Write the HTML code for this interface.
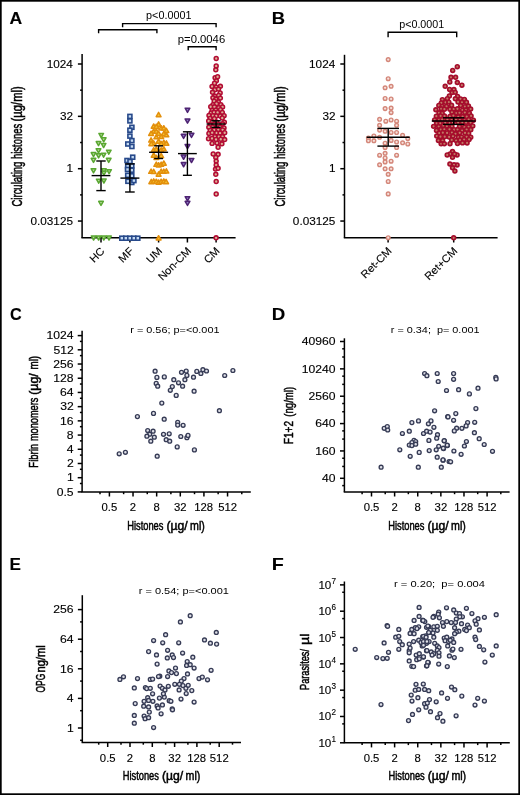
<!DOCTYPE html>
<html><head><meta charset="utf-8"><style>
html,body{margin:0;padding:0;background:#fff;overflow:hidden;width:520px;height:795px;}
svg{display:block;will-change:transform;}
text{font-family:"Liberation Sans", sans-serif;stroke:#000;stroke-width:0.12px;}
</style></head><body>
<svg width="520" height="795" viewBox="0 0 520 795">
<rect width="520" height="795" fill="#fff"/>
<rect x="0.8" y="0.8" width="518.4" height="793.4" fill="none" stroke="#000" stroke-width="1.8"/>
<text x="9.56" y="24.20" font-size="16.5" textLength="12.70" lengthAdjust="spacingAndGlyphs" font-weight="bold">A</text>
<text x="271.77" y="24.00" font-size="16.5" textLength="13.26" lengthAdjust="spacingAndGlyphs" font-weight="bold">B</text>
<text x="9.94" y="319.60" font-size="16.5" textLength="11.71" lengthAdjust="spacingAndGlyphs" font-weight="bold">C</text>
<text x="271.85" y="319.80" font-size="16.5" textLength="13.54" lengthAdjust="spacingAndGlyphs" font-weight="bold">D</text>
<text x="9.46" y="569.80" font-size="16.5" textLength="11.41" lengthAdjust="spacingAndGlyphs" font-weight="bold">E</text>
<text x="271.68" y="569.80" font-size="16.5" textLength="12.04" lengthAdjust="spacingAndGlyphs" font-weight="bold">F</text>
<line x1="82.10" y1="54.00" x2="82.10" y2="237.70" stroke="#000" stroke-width="1.5"/>
<line x1="81.40" y1="237.70" x2="235.60" y2="237.70" stroke="#000" stroke-width="1.5"/>
<line x1="77.90" y1="64.00" x2="82.10" y2="64.00" stroke="#000" stroke-width="1.5"/>
<text x="46.68" y="67.70" font-size="10.5" textLength="26.16" lengthAdjust="spacingAndGlyphs">1024</text>
<line x1="77.90" y1="116.35" x2="82.10" y2="116.35" stroke="#000" stroke-width="1.5"/>
<text x="60.01" y="120.05" font-size="10.5" textLength="13.08" lengthAdjust="spacingAndGlyphs">32</text>
<line x1="77.90" y1="168.70" x2="82.10" y2="168.70" stroke="#000" stroke-width="1.5"/>
<text x="66.53" y="172.40" font-size="10.5" textLength="6.54" lengthAdjust="spacingAndGlyphs">1</text>
<line x1="77.90" y1="221.05" x2="82.10" y2="221.05" stroke="#000" stroke-width="1.5"/>
<text x="30.48" y="224.75" font-size="10.5" textLength="42.51" lengthAdjust="spacingAndGlyphs">0.03125</text>
<line x1="80.10" y1="90.17" x2="82.10" y2="90.17" stroke="#000" stroke-width="1.5"/>
<line x1="80.10" y1="142.52" x2="82.10" y2="142.52" stroke="#000" stroke-width="1.5"/>
<line x1="80.10" y1="194.88" x2="82.10" y2="194.88" stroke="#000" stroke-width="1.5"/>
<line x1="101.00" y1="237.70" x2="101.00" y2="242.50" stroke="#000" stroke-width="1.5"/>
<text x="93.94" y="263.16" font-size="10.8" textLength="16.07" lengthAdjust="spacingAndGlyphs" transform="rotate(-45 93.94 263.16)">HC</text>
<line x1="129.90" y1="237.70" x2="129.90" y2="242.50" stroke="#000" stroke-width="1.5"/>
<text x="122.84" y="263.16" font-size="10.8" textLength="16.06" lengthAdjust="spacingAndGlyphs" transform="rotate(-45 122.84 263.16)">MF</text>
<line x1="158.60" y1="237.70" x2="158.60" y2="242.50" stroke="#000" stroke-width="1.5"/>
<text x="150.67" y="264.03" font-size="10.8" textLength="17.30" lengthAdjust="spacingAndGlyphs" transform="rotate(-45 150.67 264.03)">UM</text>
<line x1="187.40" y1="237.70" x2="187.40" y2="242.50" stroke="#000" stroke-width="1.5"/>
<text x="162.42" y="281.08" font-size="10.8" textLength="41.41" lengthAdjust="spacingAndGlyphs" transform="rotate(-45 162.42 281.08)">Non-CM</text>
<line x1="216.10" y1="237.70" x2="216.10" y2="242.50" stroke="#000" stroke-width="1.5"/>
<text x="208.17" y="264.03" font-size="10.8" textLength="17.30" lengthAdjust="spacingAndGlyphs" transform="rotate(-45 208.17 264.03)">CM</text>
<line x1="344.50" y1="54.80" x2="344.50" y2="237.70" stroke="#000" stroke-width="1.5"/>
<line x1="343.80" y1="237.70" x2="497.60" y2="237.70" stroke="#000" stroke-width="1.5"/>
<line x1="340.30" y1="64.00" x2="344.50" y2="64.00" stroke="#000" stroke-width="1.5"/>
<text x="309.08" y="67.70" font-size="10.5" textLength="26.16" lengthAdjust="spacingAndGlyphs">1024</text>
<line x1="340.30" y1="116.35" x2="344.50" y2="116.35" stroke="#000" stroke-width="1.5"/>
<text x="322.41" y="120.05" font-size="10.5" textLength="13.08" lengthAdjust="spacingAndGlyphs">32</text>
<line x1="340.30" y1="168.70" x2="344.50" y2="168.70" stroke="#000" stroke-width="1.5"/>
<text x="328.93" y="172.40" font-size="10.5" textLength="6.54" lengthAdjust="spacingAndGlyphs">1</text>
<line x1="340.30" y1="221.05" x2="344.50" y2="221.05" stroke="#000" stroke-width="1.5"/>
<text x="292.88" y="224.75" font-size="10.5" textLength="42.51" lengthAdjust="spacingAndGlyphs">0.03125</text>
<line x1="342.50" y1="90.17" x2="344.50" y2="90.17" stroke="#000" stroke-width="1.5"/>
<line x1="342.50" y1="142.52" x2="344.50" y2="142.52" stroke="#000" stroke-width="1.5"/>
<line x1="342.50" y1="194.88" x2="344.50" y2="194.88" stroke="#000" stroke-width="1.5"/>
<line x1="388.10" y1="237.70" x2="388.10" y2="242.50" stroke="#000" stroke-width="1.5"/>
<text x="365.31" y="278.89" font-size="10.8" textLength="38.31" lengthAdjust="spacingAndGlyphs" transform="rotate(-45 365.31 278.89)">Ret-CM</text>
<line x1="453.70" y1="237.70" x2="453.70" y2="242.50" stroke="#000" stroke-width="1.5"/>
<text x="428.93" y="280.87" font-size="10.8" textLength="41.11" lengthAdjust="spacingAndGlyphs" transform="rotate(-45 428.93 280.87)">Ret+CM</text>
<text x="22.30" y="206.48" font-size="14" textLength="44.79" lengthAdjust="spacingAndGlyphs" transform="rotate(-90 22.30 206.48)" style="stroke-width:0.5px">Circulating</text>
<text x="22.30" y="159.06" font-size="14" textLength="35.20" lengthAdjust="spacingAndGlyphs" transform="rotate(-90 22.30 159.06)" style="stroke-width:0.5px">histones</text>
<text x="22.30" y="121.39" font-size="14" textLength="35.09" lengthAdjust="spacingAndGlyphs" transform="rotate(-90 22.30 121.39)" style="stroke-width:0.5px">(µg/ml)</text>
<text x="284.80" y="206.48" font-size="14" textLength="44.79" lengthAdjust="spacingAndGlyphs" transform="rotate(-90 284.80 206.48)" style="stroke-width:0.5px">Circulating</text>
<text x="284.80" y="159.06" font-size="14" textLength="35.20" lengthAdjust="spacingAndGlyphs" transform="rotate(-90 284.80 159.06)" style="stroke-width:0.5px">histones</text>
<text x="284.80" y="121.39" font-size="14" textLength="35.09" lengthAdjust="spacingAndGlyphs" transform="rotate(-90 284.80 121.39)" style="stroke-width:0.5px">(µg/ml)</text>
<polyline points="98.60,33.20 98.60,29.70 156.90,29.70 156.90,33.20" fill="none" stroke="#000" stroke-width="1.4"/>
<polyline points="122.60,27.20 122.60,23.60 216.10,23.60 216.10,27.20" fill="none" stroke="#000" stroke-width="1.4"/>
<polyline points="188.20,50.30 188.20,46.70 216.10,46.70 216.10,50.30" fill="none" stroke="#000" stroke-width="1.4"/>
<text x="146.10" y="19.10" font-size="10.5" textLength="45.43" lengthAdjust="spacingAndGlyphs" style="stroke:none">p&lt;0.0001</text>
<text x="177.77" y="42.90" font-size="10.5" textLength="47.42" lengthAdjust="spacingAndGlyphs" style="stroke:none">p=0.0046</text>
<polyline points="388.10,37.20 388.10,32.20 456.70,32.20 456.70,37.20" fill="none" stroke="#000" stroke-width="1.4"/>
<text x="399.21" y="28.20" font-size="10.5" textLength="45.01" lengthAdjust="spacingAndGlyphs" style="stroke:none">p&lt;0.0001</text>
<polygon points="98.90,133.47 103.50,133.47 101.20,137.53" fill="#b9da9f" stroke="#5aa732" stroke-width="1.5" stroke-linejoin="round"/>
<polygon points="101.40,137.77 106.00,137.77 103.70,141.84" fill="#b9da9f" stroke="#5aa732" stroke-width="1.5" stroke-linejoin="round"/>
<polygon points="96.20,141.56 100.80,141.56 98.50,145.63" fill="#b9da9f" stroke="#5aa732" stroke-width="1.5" stroke-linejoin="round"/>
<polygon points="101.30,143.47 105.90,143.47 103.60,147.53" fill="#b9da9f" stroke="#5aa732" stroke-width="1.5" stroke-linejoin="round"/>
<polygon points="96.20,148.77 100.80,148.77 98.50,152.84" fill="#b9da9f" stroke="#5aa732" stroke-width="1.5" stroke-linejoin="round"/>
<polygon points="106.50,150.16 111.10,150.16 108.80,154.23" fill="#b9da9f" stroke="#5aa732" stroke-width="1.5" stroke-linejoin="round"/>
<polygon points="91.20,152.56 95.80,152.56 93.50,156.63" fill="#b9da9f" stroke="#5aa732" stroke-width="1.5" stroke-linejoin="round"/>
<polygon points="96.30,153.87 100.90,153.87 98.60,157.94" fill="#b9da9f" stroke="#5aa732" stroke-width="1.5" stroke-linejoin="round"/>
<polygon points="101.30,153.16 105.90,153.16 103.60,157.23" fill="#b9da9f" stroke="#5aa732" stroke-width="1.5" stroke-linejoin="round"/>
<polygon points="91.20,158.37 95.80,158.37 93.50,162.44" fill="#b9da9f" stroke="#5aa732" stroke-width="1.5" stroke-linejoin="round"/>
<polygon points="106.40,158.37 111.00,158.37 108.70,162.44" fill="#b9da9f" stroke="#5aa732" stroke-width="1.5" stroke-linejoin="round"/>
<polygon points="91.20,168.77 95.80,168.77 93.50,172.84" fill="#b9da9f" stroke="#5aa732" stroke-width="1.5" stroke-linejoin="round"/>
<polygon points="101.60,168.77 106.20,168.77 103.90,172.84" fill="#b9da9f" stroke="#5aa732" stroke-width="1.5" stroke-linejoin="round"/>
<polygon points="106.80,169.66 111.40,169.66 109.10,173.73" fill="#b9da9f" stroke="#5aa732" stroke-width="1.5" stroke-linejoin="round"/>
<polygon points="101.60,171.16 106.20,171.16 103.90,175.23" fill="#b9da9f" stroke="#5aa732" stroke-width="1.5" stroke-linejoin="round"/>
<polygon points="96.40,179.16 101.00,179.16 98.70,183.23" fill="#b9da9f" stroke="#5aa732" stroke-width="1.5" stroke-linejoin="round"/>
<polygon points="101.60,178.97 106.20,178.97 103.90,183.03" fill="#b9da9f" stroke="#5aa732" stroke-width="1.5" stroke-linejoin="round"/>
<polygon points="98.70,201.37 103.30,201.37 101.00,205.44" fill="#b9da9f" stroke="#5aa732" stroke-width="1.5" stroke-linejoin="round"/>
<polygon points="91.30,235.97 95.90,235.97 93.60,240.03" fill="#b9da9f" stroke="#5aa732" stroke-width="1.5" stroke-linejoin="round"/>
<polygon points="96.30,235.97 100.90,235.97 98.60,240.03" fill="#b9da9f" stroke="#5aa732" stroke-width="1.5" stroke-linejoin="round"/>
<polygon points="101.50,235.97 106.10,235.97 103.80,240.03" fill="#b9da9f" stroke="#5aa732" stroke-width="1.5" stroke-linejoin="round"/>
<polygon points="106.70,235.97 111.30,235.97 109.00,240.03" fill="#b9da9f" stroke="#5aa732" stroke-width="1.5" stroke-linejoin="round"/>
<line x1="91.60" y1="175.60" x2="110.40" y2="175.60" stroke="#000" stroke-width="1.4"/>
<line x1="101.00" y1="161.00" x2="101.00" y2="190.60" stroke="#000" stroke-width="1.4"/>
<line x1="96.30" y1="161.00" x2="105.70" y2="161.00" stroke="#000" stroke-width="1.4"/>
<line x1="96.30" y1="190.60" x2="105.70" y2="190.60" stroke="#000" stroke-width="1.4"/>
<rect x="127.90" y="114.40" width="4.0" height="4.0" fill="#c4daf2" stroke="#27498a" stroke-width="1.6"/>
<rect x="127.90" y="118.90" width="4.0" height="4.0" fill="#c4daf2" stroke="#27498a" stroke-width="1.6"/>
<rect x="129.90" y="125.30" width="4.0" height="4.0" fill="#c4daf2" stroke="#27498a" stroke-width="1.6"/>
<rect x="127.90" y="128.20" width="4.0" height="4.0" fill="#c4daf2" stroke="#27498a" stroke-width="1.6"/>
<rect x="127.90" y="134.10" width="4.0" height="4.0" fill="#c4daf2" stroke="#27498a" stroke-width="1.6"/>
<rect x="129.90" y="138.60" width="4.0" height="4.0" fill="#c4daf2" stroke="#27498a" stroke-width="1.6"/>
<rect x="125.80" y="142.00" width="4.0" height="4.0" fill="#c4daf2" stroke="#27498a" stroke-width="1.6"/>
<rect x="129.90" y="144.50" width="4.0" height="4.0" fill="#c4daf2" stroke="#27498a" stroke-width="1.6"/>
<rect x="130.70" y="155.20" width="4.0" height="4.0" fill="#c4daf2" stroke="#27498a" stroke-width="1.6"/>
<rect x="125.00" y="158.50" width="4.0" height="4.0" fill="#c4daf2" stroke="#27498a" stroke-width="1.6"/>
<rect x="128.00" y="159.50" width="4.0" height="4.0" fill="#c4daf2" stroke="#27498a" stroke-width="1.6"/>
<rect x="125.70" y="164.30" width="4.0" height="4.0" fill="#c4daf2" stroke="#27498a" stroke-width="1.6"/>
<rect x="129.80" y="163.80" width="4.0" height="4.0" fill="#c4daf2" stroke="#27498a" stroke-width="1.6"/>
<rect x="125.50" y="167.50" width="4.0" height="4.0" fill="#c4daf2" stroke="#27498a" stroke-width="1.6"/>
<rect x="129.80" y="168.20" width="4.0" height="4.0" fill="#c4daf2" stroke="#27498a" stroke-width="1.6"/>
<rect x="125.70" y="173.30" width="4.0" height="4.0" fill="#c4daf2" stroke="#27498a" stroke-width="1.6"/>
<rect x="129.80" y="173.80" width="4.0" height="4.0" fill="#c4daf2" stroke="#27498a" stroke-width="1.6"/>
<rect x="125.90" y="179.30" width="4.0" height="4.0" fill="#c4daf2" stroke="#27498a" stroke-width="1.6"/>
<rect x="129.80" y="180.50" width="4.0" height="4.0" fill="#c4daf2" stroke="#27498a" stroke-width="1.6"/>
<rect x="131.90" y="178.60" width="4.0" height="4.0" fill="#c4daf2" stroke="#27498a" stroke-width="1.6"/>
<rect x="119.80" y="236.20" width="4.0" height="4.0" fill="#c4daf2" stroke="#27498a" stroke-width="1.6"/>
<rect x="123.80" y="236.20" width="4.0" height="4.0" fill="#c4daf2" stroke="#27498a" stroke-width="1.6"/>
<rect x="127.80" y="236.20" width="4.0" height="4.0" fill="#c4daf2" stroke="#27498a" stroke-width="1.6"/>
<rect x="131.80" y="236.20" width="4.0" height="4.0" fill="#c4daf2" stroke="#27498a" stroke-width="1.6"/>
<rect x="135.80" y="236.20" width="4.0" height="4.0" fill="#c4daf2" stroke="#27498a" stroke-width="1.6"/>
<line x1="120.40" y1="178.10" x2="139.40" y2="178.10" stroke="#000" stroke-width="1.4"/>
<line x1="129.90" y1="163.90" x2="129.90" y2="192.00" stroke="#000" stroke-width="1.4"/>
<line x1="125.10" y1="163.90" x2="134.70" y2="163.90" stroke="#000" stroke-width="1.4"/>
<line x1="125.10" y1="192.00" x2="134.70" y2="192.00" stroke="#000" stroke-width="1.4"/>
<polygon points="156.20,116.63 161.00,116.63 158.60,112.37" fill="#f2c230" stroke="#e38f0c" stroke-width="1.5" stroke-linejoin="round"/>
<polygon points="156.20,126.13 161.00,126.13 158.60,121.87" fill="#f2c230" stroke="#e38f0c" stroke-width="1.5" stroke-linejoin="round"/>
<polygon points="151.30,128.23 156.10,128.23 153.70,123.97" fill="#f2c230" stroke="#e38f0c" stroke-width="1.5" stroke-linejoin="round"/>
<polygon points="153.90,128.43 158.70,128.43 156.30,124.17" fill="#f2c230" stroke="#e38f0c" stroke-width="1.5" stroke-linejoin="round"/>
<polygon points="158.80,129.93 163.60,129.93 161.20,125.67" fill="#f2c230" stroke="#e38f0c" stroke-width="1.5" stroke-linejoin="round"/>
<polygon points="161.40,129.93 166.20,129.93 163.80,125.67" fill="#f2c230" stroke="#e38f0c" stroke-width="1.5" stroke-linejoin="round"/>
<polygon points="164.00,132.53 168.80,132.53 166.40,128.27" fill="#f2c230" stroke="#e38f0c" stroke-width="1.5" stroke-linejoin="round"/>
<polygon points="151.30,133.13 156.10,133.13 153.70,128.87" fill="#f2c230" stroke="#e38f0c" stroke-width="1.5" stroke-linejoin="round"/>
<polygon points="153.90,133.13 158.70,133.13 156.30,128.87" fill="#f2c230" stroke="#e38f0c" stroke-width="1.5" stroke-linejoin="round"/>
<polygon points="148.70,135.43 153.50,135.43 151.10,131.17" fill="#f2c230" stroke="#e38f0c" stroke-width="1.5" stroke-linejoin="round"/>
<polygon points="156.20,135.43 161.00,135.43 158.60,131.17" fill="#f2c230" stroke="#e38f0c" stroke-width="1.5" stroke-linejoin="round"/>
<polygon points="161.40,135.73 166.20,135.73 163.80,131.47" fill="#f2c230" stroke="#e38f0c" stroke-width="1.5" stroke-linejoin="round"/>
<polygon points="164.00,136.83 168.80,136.83 166.40,132.57" fill="#f2c230" stroke="#e38f0c" stroke-width="1.5" stroke-linejoin="round"/>
<polygon points="153.90,138.83 158.70,138.83 156.30,134.57" fill="#f2c230" stroke="#e38f0c" stroke-width="1.5" stroke-linejoin="round"/>
<polygon points="158.80,138.53 163.60,138.53 161.20,134.27" fill="#f2c230" stroke="#e38f0c" stroke-width="1.5" stroke-linejoin="round"/>
<polygon points="148.70,142.03 153.50,142.03 151.10,137.77" fill="#f2c230" stroke="#e38f0c" stroke-width="1.5" stroke-linejoin="round"/>
<polygon points="156.20,143.13 161.00,143.13 158.60,138.87" fill="#f2c230" stroke="#e38f0c" stroke-width="1.5" stroke-linejoin="round"/>
<polygon points="151.30,145.13 156.10,145.13 153.70,140.87" fill="#f2c230" stroke="#e38f0c" stroke-width="1.5" stroke-linejoin="round"/>
<polygon points="161.40,144.33 166.20,144.33 163.80,140.07" fill="#f2c230" stroke="#e38f0c" stroke-width="1.5" stroke-linejoin="round"/>
<polygon points="164.00,145.13 168.80,145.13 166.40,140.87" fill="#f2c230" stroke="#e38f0c" stroke-width="1.5" stroke-linejoin="round"/>
<polygon points="148.90,145.63 153.70,145.63 151.30,141.37" fill="#f2c230" stroke="#e38f0c" stroke-width="1.5" stroke-linejoin="round"/>
<polygon points="158.80,145.63 163.60,145.63 161.20,141.37" fill="#f2c230" stroke="#e38f0c" stroke-width="1.5" stroke-linejoin="round"/>
<polygon points="151.30,151.93 156.10,151.93 153.70,147.67" fill="#f2c230" stroke="#e38f0c" stroke-width="1.5" stroke-linejoin="round"/>
<polygon points="153.90,151.13 158.70,151.13 156.30,146.87" fill="#f2c230" stroke="#e38f0c" stroke-width="1.5" stroke-linejoin="round"/>
<polygon points="158.80,151.93 163.60,151.93 161.20,147.67" fill="#f2c230" stroke="#e38f0c" stroke-width="1.5" stroke-linejoin="round"/>
<polygon points="161.40,150.83 166.20,150.83 163.80,146.57" fill="#f2c230" stroke="#e38f0c" stroke-width="1.5" stroke-linejoin="round"/>
<polygon points="151.30,157.13 156.10,157.13 153.70,152.87" fill="#f2c230" stroke="#e38f0c" stroke-width="1.5" stroke-linejoin="round"/>
<polygon points="158.80,157.73 163.60,157.73 161.20,153.47" fill="#f2c230" stroke="#e38f0c" stroke-width="1.5" stroke-linejoin="round"/>
<polygon points="153.90,159.43 158.70,159.43 156.30,155.17" fill="#f2c230" stroke="#e38f0c" stroke-width="1.5" stroke-linejoin="round"/>
<polygon points="153.90,166.33 158.70,166.33 156.30,162.07" fill="#f2c230" stroke="#e38f0c" stroke-width="1.5" stroke-linejoin="round"/>
<polygon points="156.20,166.93 161.00,166.93 158.60,162.67" fill="#f2c230" stroke="#e38f0c" stroke-width="1.5" stroke-linejoin="round"/>
<polygon points="158.80,166.33 163.60,166.33 161.20,162.07" fill="#f2c230" stroke="#e38f0c" stroke-width="1.5" stroke-linejoin="round"/>
<polygon points="161.40,165.23 166.20,165.23 163.80,160.97" fill="#f2c230" stroke="#e38f0c" stroke-width="1.5" stroke-linejoin="round"/>
<polygon points="148.70,173.33 153.50,173.33 151.10,169.07" fill="#f2c230" stroke="#e38f0c" stroke-width="1.5" stroke-linejoin="round"/>
<polygon points="151.30,173.53 156.10,173.53 153.70,169.27" fill="#f2c230" stroke="#e38f0c" stroke-width="1.5" stroke-linejoin="round"/>
<polygon points="156.20,176.13 161.00,176.13 158.60,171.87" fill="#f2c230" stroke="#e38f0c" stroke-width="1.5" stroke-linejoin="round"/>
<polygon points="158.80,173.33 163.60,173.33 161.20,169.07" fill="#f2c230" stroke="#e38f0c" stroke-width="1.5" stroke-linejoin="round"/>
<polygon points="161.40,173.33 166.20,173.33 163.80,169.07" fill="#f2c230" stroke="#e38f0c" stroke-width="1.5" stroke-linejoin="round"/>
<polygon points="164.00,173.03 168.80,173.03 166.40,168.77" fill="#f2c230" stroke="#e38f0c" stroke-width="1.5" stroke-linejoin="round"/>
<polygon points="148.90,183.63 153.70,183.63 151.30,179.37" fill="#f2c230" stroke="#e38f0c" stroke-width="1.5" stroke-linejoin="round"/>
<polygon points="151.30,183.13 156.10,183.13 153.70,178.87" fill="#f2c230" stroke="#e38f0c" stroke-width="1.5" stroke-linejoin="round"/>
<polygon points="153.90,183.43 158.70,183.43 156.30,179.17" fill="#f2c230" stroke="#e38f0c" stroke-width="1.5" stroke-linejoin="round"/>
<polygon points="156.20,184.23 161.00,184.23 158.60,179.97" fill="#f2c230" stroke="#e38f0c" stroke-width="1.5" stroke-linejoin="round"/>
<polygon points="158.80,183.43 163.60,183.43 161.20,179.17" fill="#f2c230" stroke="#e38f0c" stroke-width="1.5" stroke-linejoin="round"/>
<polygon points="161.40,183.13 166.20,183.13 163.80,178.87" fill="#f2c230" stroke="#e38f0c" stroke-width="1.5" stroke-linejoin="round"/>
<polygon points="163.70,183.63 168.50,183.63 166.10,179.37" fill="#f2c230" stroke="#e38f0c" stroke-width="1.5" stroke-linejoin="round"/>
<polygon points="156.20,239.93 161.00,239.93 158.60,235.67" fill="#f2c230" stroke="#e38f0c" stroke-width="1.5" stroke-linejoin="round"/>
<line x1="149.10" y1="152.30" x2="168.10" y2="152.30" stroke="#000" stroke-width="1.4"/>
<line x1="158.60" y1="145.80" x2="158.60" y2="158.50" stroke="#000" stroke-width="1.4"/>
<line x1="154.20" y1="145.80" x2="163.00" y2="145.80" stroke="#000" stroke-width="1.4"/>
<line x1="154.20" y1="158.50" x2="163.00" y2="158.50" stroke="#000" stroke-width="1.4"/>
<polygon points="185.15,108.22 189.85,108.22 187.50,112.38" fill="#8c7cc4" stroke="#4e2372" stroke-width="1.5" stroke-linejoin="round"/>
<polygon points="185.15,119.02 189.85,119.02 187.50,123.18" fill="#8c7cc4" stroke="#4e2372" stroke-width="1.5" stroke-linejoin="round"/>
<polygon points="181.25,134.32 185.95,134.32 183.60,138.48" fill="#8c7cc4" stroke="#4e2372" stroke-width="1.5" stroke-linejoin="round"/>
<polygon points="189.15,133.32 193.85,133.32 191.50,137.48" fill="#8c7cc4" stroke="#4e2372" stroke-width="1.5" stroke-linejoin="round"/>
<polygon points="185.15,144.52 189.85,144.52 187.50,148.68" fill="#8c7cc4" stroke="#4e2372" stroke-width="1.5" stroke-linejoin="round"/>
<polygon points="181.25,155.12 185.95,155.12 183.60,159.28" fill="#8c7cc4" stroke="#4e2372" stroke-width="1.5" stroke-linejoin="round"/>
<polygon points="189.15,158.42 193.85,158.42 191.50,162.58" fill="#8c7cc4" stroke="#4e2372" stroke-width="1.5" stroke-linejoin="round"/>
<polygon points="181.25,162.62 185.95,162.62 183.60,166.78" fill="#8c7cc4" stroke="#4e2372" stroke-width="1.5" stroke-linejoin="round"/>
<polygon points="185.15,196.72 189.85,196.72 187.50,200.88" fill="#8c7cc4" stroke="#4e2372" stroke-width="1.5" stroke-linejoin="round"/>
<polygon points="185.15,201.32 189.85,201.32 187.50,205.48" fill="#8c7cc4" stroke="#4e2372" stroke-width="1.5" stroke-linejoin="round"/>
<line x1="178.00" y1="153.60" x2="196.80" y2="153.60" stroke="#000" stroke-width="1.4"/>
<line x1="187.40" y1="131.80" x2="187.40" y2="175.30" stroke="#000" stroke-width="1.4"/>
<line x1="182.90" y1="131.80" x2="191.90" y2="131.80" stroke="#000" stroke-width="1.4"/>
<line x1="182.90" y1="175.30" x2="191.90" y2="175.30" stroke="#000" stroke-width="1.4"/>
<circle cx="216.20" cy="58.50" r="1.95" fill="#dcae94" stroke="#b20b33" stroke-width="1.55"/>
<circle cx="216.20" cy="66.00" r="1.95" fill="#dcae94" stroke="#b20b33" stroke-width="1.55"/>
<circle cx="215.80" cy="69.80" r="1.95" fill="#dcae94" stroke="#b20b33" stroke-width="1.55"/>
<circle cx="215.10" cy="77.70" r="1.95" fill="#dcae94" stroke="#b20b33" stroke-width="1.55"/>
<circle cx="217.60" cy="76.70" r="1.95" fill="#dcae94" stroke="#b20b33" stroke-width="1.55"/>
<circle cx="212.10" cy="143.40" r="1.95" fill="#dcae94" stroke="#b20b33" stroke-width="1.55"/>
<circle cx="217.00" cy="143.00" r="1.95" fill="#dcae94" stroke="#b20b33" stroke-width="1.55"/>
<circle cx="221.90" cy="143.80" r="1.95" fill="#dcae94" stroke="#b20b33" stroke-width="1.55"/>
<circle cx="218.10" cy="147.20" r="1.95" fill="#dcae94" stroke="#b20b33" stroke-width="1.55"/>
<circle cx="213.20" cy="154.00" r="1.95" fill="#dcae94" stroke="#b20b33" stroke-width="1.55"/>
<circle cx="218.10" cy="154.30" r="1.95" fill="#dcae94" stroke="#b20b33" stroke-width="1.55"/>
<circle cx="215.80" cy="157.40" r="1.95" fill="#dcae94" stroke="#b20b33" stroke-width="1.55"/>
<circle cx="216.20" cy="161.10" r="1.95" fill="#dcae94" stroke="#b20b33" stroke-width="1.55"/>
<circle cx="216.20" cy="164.90" r="1.95" fill="#dcae94" stroke="#b20b33" stroke-width="1.55"/>
<circle cx="215.50" cy="169.10" r="1.95" fill="#dcae94" stroke="#b20b33" stroke-width="1.55"/>
<circle cx="218.10" cy="168.30" r="1.95" fill="#dcae94" stroke="#b20b33" stroke-width="1.55"/>
<circle cx="215.80" cy="174.30" r="1.95" fill="#dcae94" stroke="#b20b33" stroke-width="1.55"/>
<circle cx="216.20" cy="181.50" r="1.95" fill="#dcae94" stroke="#b20b33" stroke-width="1.55"/>
<circle cx="216.20" cy="194.00" r="1.95" fill="#dcae94" stroke="#b20b33" stroke-width="1.55"/>
<circle cx="216.10" cy="237.80" r="1.95" fill="#dcae94" stroke="#b20b33" stroke-width="1.55"/>
<circle cx="216.36" cy="80.82" r="1.95" fill="#dcae94" stroke="#b20b33" stroke-width="1.55"/>
<circle cx="214.53" cy="83.29" r="1.95" fill="#dcae94" stroke="#b20b33" stroke-width="1.55"/>
<circle cx="212.06" cy="86.43" r="1.95" fill="#dcae94" stroke="#b20b33" stroke-width="1.55"/>
<circle cx="216.26" cy="87.27" r="1.95" fill="#dcae94" stroke="#b20b33" stroke-width="1.55"/>
<circle cx="220.39" cy="86.31" r="1.95" fill="#dcae94" stroke="#b20b33" stroke-width="1.55"/>
<circle cx="214.87" cy="89.73" r="1.95" fill="#dcae94" stroke="#b20b33" stroke-width="1.55"/>
<circle cx="218.49" cy="89.09" r="1.95" fill="#dcae94" stroke="#b20b33" stroke-width="1.55"/>
<circle cx="212.53" cy="92.32" r="1.95" fill="#dcae94" stroke="#b20b33" stroke-width="1.55"/>
<circle cx="220.16" cy="92.91" r="1.95" fill="#dcae94" stroke="#b20b33" stroke-width="1.55"/>
<circle cx="214.65" cy="96.09" r="1.95" fill="#dcae94" stroke="#b20b33" stroke-width="1.55"/>
<circle cx="218.67" cy="95.42" r="1.95" fill="#dcae94" stroke="#b20b33" stroke-width="1.55"/>
<circle cx="212.93" cy="97.84" r="1.95" fill="#dcae94" stroke="#b20b33" stroke-width="1.55"/>
<circle cx="215.90" cy="99.05" r="1.95" fill="#dcae94" stroke="#b20b33" stroke-width="1.55"/>
<circle cx="220.38" cy="98.12" r="1.95" fill="#dcae94" stroke="#b20b33" stroke-width="1.55"/>
<circle cx="214.19" cy="101.09" r="1.95" fill="#dcae94" stroke="#b20b33" stroke-width="1.55"/>
<circle cx="218.37" cy="101.87" r="1.95" fill="#dcae94" stroke="#b20b33" stroke-width="1.55"/>
<circle cx="213.00" cy="104.70" r="1.95" fill="#dcae94" stroke="#b20b33" stroke-width="1.55"/>
<circle cx="216.54" cy="103.73" r="1.95" fill="#dcae94" stroke="#b20b33" stroke-width="1.55"/>
<circle cx="220.85" cy="104.77" r="1.95" fill="#dcae94" stroke="#b20b33" stroke-width="1.55"/>
<circle cx="210.75" cy="106.70" r="1.95" fill="#dcae94" stroke="#b20b33" stroke-width="1.55"/>
<circle cx="214.45" cy="106.80" r="1.95" fill="#dcae94" stroke="#b20b33" stroke-width="1.55"/>
<circle cx="218.75" cy="107.79" r="1.95" fill="#dcae94" stroke="#b20b33" stroke-width="1.55"/>
<circle cx="222.57" cy="106.97" r="1.95" fill="#dcae94" stroke="#b20b33" stroke-width="1.55"/>
<circle cx="212.11" cy="110.38" r="1.95" fill="#dcae94" stroke="#b20b33" stroke-width="1.55"/>
<circle cx="215.66" cy="110.16" r="1.95" fill="#dcae94" stroke="#b20b33" stroke-width="1.55"/>
<circle cx="220.51" cy="109.76" r="1.95" fill="#dcae94" stroke="#b20b33" stroke-width="1.55"/>
<circle cx="211.12" cy="112.91" r="1.95" fill="#dcae94" stroke="#b20b33" stroke-width="1.55"/>
<circle cx="214.08" cy="112.31" r="1.95" fill="#dcae94" stroke="#b20b33" stroke-width="1.55"/>
<circle cx="217.59" cy="112.48" r="1.95" fill="#dcae94" stroke="#b20b33" stroke-width="1.55"/>
<circle cx="222.30" cy="112.42" r="1.95" fill="#dcae94" stroke="#b20b33" stroke-width="1.55"/>
<circle cx="209.01" cy="115.54" r="1.95" fill="#dcae94" stroke="#b20b33" stroke-width="1.55"/>
<circle cx="212.96" cy="115.63" r="1.95" fill="#dcae94" stroke="#b20b33" stroke-width="1.55"/>
<circle cx="216.33" cy="116.00" r="1.95" fill="#dcae94" stroke="#b20b33" stroke-width="1.55"/>
<circle cx="220.28" cy="115.97" r="1.95" fill="#dcae94" stroke="#b20b33" stroke-width="1.55"/>
<circle cx="224.11" cy="115.70" r="1.95" fill="#dcae94" stroke="#b20b33" stroke-width="1.55"/>
<circle cx="210.08" cy="118.42" r="1.95" fill="#dcae94" stroke="#b20b33" stroke-width="1.55"/>
<circle cx="214.38" cy="118.77" r="1.95" fill="#dcae94" stroke="#b20b33" stroke-width="1.55"/>
<circle cx="222.26" cy="118.03" r="1.95" fill="#dcae94" stroke="#b20b33" stroke-width="1.55"/>
<circle cx="208.69" cy="120.98" r="1.95" fill="#dcae94" stroke="#b20b33" stroke-width="1.55"/>
<circle cx="212.35" cy="121.85" r="1.95" fill="#dcae94" stroke="#b20b33" stroke-width="1.55"/>
<circle cx="216.59" cy="121.93" r="1.95" fill="#dcae94" stroke="#b20b33" stroke-width="1.55"/>
<circle cx="224.35" cy="122.25" r="1.95" fill="#dcae94" stroke="#b20b33" stroke-width="1.55"/>
<circle cx="210.39" cy="124.63" r="1.95" fill="#dcae94" stroke="#b20b33" stroke-width="1.55"/>
<circle cx="214.16" cy="124.24" r="1.95" fill="#dcae94" stroke="#b20b33" stroke-width="1.55"/>
<circle cx="218.38" cy="124.22" r="1.95" fill="#dcae94" stroke="#b20b33" stroke-width="1.55"/>
<circle cx="222.53" cy="123.84" r="1.95" fill="#dcae94" stroke="#b20b33" stroke-width="1.55"/>
<circle cx="208.83" cy="127.13" r="1.95" fill="#dcae94" stroke="#b20b33" stroke-width="1.55"/>
<circle cx="212.83" cy="127.03" r="1.95" fill="#dcae94" stroke="#b20b33" stroke-width="1.55"/>
<circle cx="216.21" cy="127.68" r="1.95" fill="#dcae94" stroke="#b20b33" stroke-width="1.55"/>
<circle cx="219.95" cy="127.17" r="1.95" fill="#dcae94" stroke="#b20b33" stroke-width="1.55"/>
<circle cx="224.01" cy="127.90" r="1.95" fill="#dcae94" stroke="#b20b33" stroke-width="1.55"/>
<circle cx="210.22" cy="130.51" r="1.95" fill="#dcae94" stroke="#b20b33" stroke-width="1.55"/>
<circle cx="214.28" cy="129.92" r="1.95" fill="#dcae94" stroke="#b20b33" stroke-width="1.55"/>
<circle cx="218.29" cy="129.87" r="1.95" fill="#dcae94" stroke="#b20b33" stroke-width="1.55"/>
<circle cx="222.62" cy="129.86" r="1.95" fill="#dcae94" stroke="#b20b33" stroke-width="1.55"/>
<circle cx="208.93" cy="133.40" r="1.95" fill="#dcae94" stroke="#b20b33" stroke-width="1.55"/>
<circle cx="212.18" cy="132.68" r="1.95" fill="#dcae94" stroke="#b20b33" stroke-width="1.55"/>
<circle cx="216.71" cy="132.88" r="1.95" fill="#dcae94" stroke="#b20b33" stroke-width="1.55"/>
<circle cx="220.08" cy="133.09" r="1.95" fill="#dcae94" stroke="#b20b33" stroke-width="1.55"/>
<circle cx="224.69" cy="132.72" r="1.95" fill="#dcae94" stroke="#b20b33" stroke-width="1.55"/>
<circle cx="214.88" cy="136.78" r="1.95" fill="#dcae94" stroke="#b20b33" stroke-width="1.55"/>
<circle cx="218.88" cy="136.70" r="1.95" fill="#dcae94" stroke="#b20b33" stroke-width="1.55"/>
<circle cx="222.49" cy="136.57" r="1.95" fill="#dcae94" stroke="#b20b33" stroke-width="1.55"/>
<circle cx="208.53" cy="138.70" r="1.95" fill="#dcae94" stroke="#b20b33" stroke-width="1.55"/>
<circle cx="212.02" cy="138.40" r="1.95" fill="#dcae94" stroke="#b20b33" stroke-width="1.55"/>
<circle cx="216.00" cy="139.43" r="1.95" fill="#dcae94" stroke="#b20b33" stroke-width="1.55"/>
<circle cx="220.77" cy="139.27" r="1.95" fill="#dcae94" stroke="#b20b33" stroke-width="1.55"/>
<circle cx="224.66" cy="139.56" r="1.95" fill="#dcae94" stroke="#b20b33" stroke-width="1.55"/>
<line x1="206.60" y1="124.00" x2="225.60" y2="124.00" stroke="#000" stroke-width="1.4"/>
<line x1="216.10" y1="120.80" x2="216.10" y2="127.40" stroke="#000" stroke-width="1.4"/>
<line x1="211.50" y1="120.80" x2="220.70" y2="120.80" stroke="#000" stroke-width="1.4"/>
<line x1="211.50" y1="127.40" x2="220.70" y2="127.40" stroke="#000" stroke-width="1.4"/>
<circle cx="388.20" cy="59.60" r="1.85" fill="#f6e0da" stroke="#d4877a" stroke-width="1.4"/>
<circle cx="388.20" cy="78.70" r="1.85" fill="#f6e0da" stroke="#d4877a" stroke-width="1.4"/>
<circle cx="385.10" cy="87.80" r="1.85" fill="#f6e0da" stroke="#d4877a" stroke-width="1.4"/>
<circle cx="391.10" cy="86.30" r="1.85" fill="#f6e0da" stroke="#d4877a" stroke-width="1.4"/>
<circle cx="385.10" cy="98.50" r="1.85" fill="#f6e0da" stroke="#d4877a" stroke-width="1.4"/>
<circle cx="391.10" cy="99.00" r="1.85" fill="#f6e0da" stroke="#d4877a" stroke-width="1.4"/>
<circle cx="385.10" cy="108.60" r="1.85" fill="#f6e0da" stroke="#d4877a" stroke-width="1.4"/>
<circle cx="391.10" cy="108.10" r="1.85" fill="#f6e0da" stroke="#d4877a" stroke-width="1.4"/>
<circle cx="391.10" cy="112.60" r="1.85" fill="#f6e0da" stroke="#d4877a" stroke-width="1.4"/>
<circle cx="379.60" cy="119.30" r="1.85" fill="#f6e0da" stroke="#d4877a" stroke-width="1.4"/>
<circle cx="385.80" cy="121.20" r="1.85" fill="#f6e0da" stroke="#d4877a" stroke-width="1.4"/>
<circle cx="391.10" cy="120.00" r="1.85" fill="#f6e0da" stroke="#d4877a" stroke-width="1.4"/>
<circle cx="396.60" cy="121.20" r="1.85" fill="#f6e0da" stroke="#d4877a" stroke-width="1.4"/>
<circle cx="379.60" cy="125.30" r="1.85" fill="#f6e0da" stroke="#d4877a" stroke-width="1.4"/>
<circle cx="396.60" cy="125.30" r="1.85" fill="#f6e0da" stroke="#d4877a" stroke-width="1.4"/>
<circle cx="379.60" cy="130.10" r="1.85" fill="#f6e0da" stroke="#d4877a" stroke-width="1.4"/>
<circle cx="385.10" cy="131.30" r="1.85" fill="#f6e0da" stroke="#d4877a" stroke-width="1.4"/>
<circle cx="391.10" cy="132.50" r="1.85" fill="#f6e0da" stroke="#d4877a" stroke-width="1.4"/>
<circle cx="396.60" cy="132.50" r="1.85" fill="#f6e0da" stroke="#d4877a" stroke-width="1.4"/>
<circle cx="373.90" cy="136.00" r="1.85" fill="#f6e0da" stroke="#d4877a" stroke-width="1.4"/>
<circle cx="368.40" cy="138.00" r="1.85" fill="#f6e0da" stroke="#d4877a" stroke-width="1.4"/>
<circle cx="402.60" cy="135.30" r="1.85" fill="#f6e0da" stroke="#d4877a" stroke-width="1.4"/>
<circle cx="407.80" cy="138.50" r="1.85" fill="#f6e0da" stroke="#d4877a" stroke-width="1.4"/>
<circle cx="368.40" cy="140.80" r="1.85" fill="#f6e0da" stroke="#d4877a" stroke-width="1.4"/>
<circle cx="373.90" cy="140.80" r="1.85" fill="#f6e0da" stroke="#d4877a" stroke-width="1.4"/>
<circle cx="379.60" cy="137.30" r="1.85" fill="#f6e0da" stroke="#d4877a" stroke-width="1.4"/>
<circle cx="385.10" cy="143.20" r="1.85" fill="#f6e0da" stroke="#d4877a" stroke-width="1.4"/>
<circle cx="391.10" cy="140.40" r="1.85" fill="#f6e0da" stroke="#d4877a" stroke-width="1.4"/>
<circle cx="396.60" cy="142.00" r="1.85" fill="#f6e0da" stroke="#d4877a" stroke-width="1.4"/>
<circle cx="402.60" cy="142.80" r="1.85" fill="#f6e0da" stroke="#d4877a" stroke-width="1.4"/>
<circle cx="407.80" cy="144.00" r="1.85" fill="#f6e0da" stroke="#d4877a" stroke-width="1.4"/>
<circle cx="385.10" cy="147.50" r="1.85" fill="#f6e0da" stroke="#d4877a" stroke-width="1.4"/>
<circle cx="396.60" cy="147.50" r="1.85" fill="#f6e0da" stroke="#d4877a" stroke-width="1.4"/>
<circle cx="385.10" cy="153.30" r="1.85" fill="#f6e0da" stroke="#d4877a" stroke-width="1.4"/>
<circle cx="379.60" cy="155.20" r="1.85" fill="#f6e0da" stroke="#d4877a" stroke-width="1.4"/>
<circle cx="396.60" cy="155.20" r="1.85" fill="#f6e0da" stroke="#d4877a" stroke-width="1.4"/>
<circle cx="385.10" cy="158.00" r="1.85" fill="#f6e0da" stroke="#d4877a" stroke-width="1.4"/>
<circle cx="379.60" cy="164.80" r="1.85" fill="#f6e0da" stroke="#d4877a" stroke-width="1.4"/>
<circle cx="385.10" cy="161.90" r="1.85" fill="#f6e0da" stroke="#d4877a" stroke-width="1.4"/>
<circle cx="391.10" cy="161.20" r="1.85" fill="#f6e0da" stroke="#d4877a" stroke-width="1.4"/>
<circle cx="385.10" cy="168.80" r="1.85" fill="#f6e0da" stroke="#d4877a" stroke-width="1.4"/>
<circle cx="391.10" cy="168.80" r="1.85" fill="#f6e0da" stroke="#d4877a" stroke-width="1.4"/>
<circle cx="388.20" cy="174.30" r="1.85" fill="#f6e0da" stroke="#d4877a" stroke-width="1.4"/>
<circle cx="388.20" cy="181.50" r="1.85" fill="#f6e0da" stroke="#d4877a" stroke-width="1.4"/>
<circle cx="388.20" cy="193.90" r="1.85" fill="#f6e0da" stroke="#d4877a" stroke-width="1.4"/>
<circle cx="388.20" cy="237.70" r="1.85" fill="#f6e0da" stroke="#d4877a" stroke-width="1.4"/>
<line x1="366.70" y1="137.30" x2="409.70" y2="137.30" stroke="#000" stroke-width="1.4"/>
<line x1="388.20" y1="128.40" x2="388.20" y2="146.10" stroke="#000" stroke-width="1.4"/>
<line x1="377.40" y1="128.40" x2="399.00" y2="128.40" stroke="#000" stroke-width="1.4"/>
<line x1="377.40" y1="146.10" x2="399.00" y2="146.10" stroke="#000" stroke-width="1.4"/>
<circle cx="457.30" cy="66.70" r="1.9" fill="#c07a64" stroke="#a50d2c" stroke-width="1.65"/>
<circle cx="452.70" cy="70.40" r="1.9" fill="#c07a64" stroke="#a50d2c" stroke-width="1.65"/>
<circle cx="451.00" cy="77.30" r="1.9" fill="#c07a64" stroke="#a50d2c" stroke-width="1.65"/>
<circle cx="455.60" cy="77.30" r="1.9" fill="#c07a64" stroke="#a50d2c" stroke-width="1.65"/>
<circle cx="449.80" cy="81.90" r="1.9" fill="#c07a64" stroke="#a50d2c" stroke-width="1.65"/>
<circle cx="457.30" cy="82.50" r="1.9" fill="#c07a64" stroke="#a50d2c" stroke-width="1.65"/>
<circle cx="445.20" cy="86.30" r="1.9" fill="#c07a64" stroke="#a50d2c" stroke-width="1.65"/>
<circle cx="461.90" cy="85.20" r="1.9" fill="#c07a64" stroke="#a50d2c" stroke-width="1.65"/>
<circle cx="452.50" cy="151.50" r="1.9" fill="#c07a64" stroke="#a50d2c" stroke-width="1.65"/>
<circle cx="450.10" cy="153.90" r="1.9" fill="#c07a64" stroke="#a50d2c" stroke-width="1.65"/>
<circle cx="447.20" cy="154.90" r="1.9" fill="#c07a64" stroke="#a50d2c" stroke-width="1.65"/>
<circle cx="457.10" cy="154.90" r="1.9" fill="#c07a64" stroke="#a50d2c" stroke-width="1.65"/>
<circle cx="452.50" cy="157.30" r="1.9" fill="#c07a64" stroke="#a50d2c" stroke-width="1.65"/>
<circle cx="454.50" cy="154.00" r="1.9" fill="#c07a64" stroke="#a50d2c" stroke-width="1.65"/>
<circle cx="449.90" cy="164.00" r="1.9" fill="#c07a64" stroke="#a50d2c" stroke-width="1.65"/>
<circle cx="457.10" cy="165.00" r="1.9" fill="#c07a64" stroke="#a50d2c" stroke-width="1.65"/>
<circle cx="454.00" cy="164.70" r="1.9" fill="#c07a64" stroke="#a50d2c" stroke-width="1.65"/>
<circle cx="452.50" cy="167.80" r="1.9" fill="#c07a64" stroke="#a50d2c" stroke-width="1.65"/>
<circle cx="454.90" cy="171.00" r="1.9" fill="#c07a64" stroke="#a50d2c" stroke-width="1.65"/>
<circle cx="453.70" cy="237.80" r="1.9" fill="#c07a64" stroke="#a50d2c" stroke-width="1.65"/>
<circle cx="449.64" cy="89.41" r="1.9" fill="#c07a64" stroke="#a50d2c" stroke-width="1.65"/>
<circle cx="453.94" cy="89.59" r="1.9" fill="#c07a64" stroke="#a50d2c" stroke-width="1.65"/>
<circle cx="452.07" cy="92.61" r="1.9" fill="#c07a64" stroke="#a50d2c" stroke-width="1.65"/>
<circle cx="455.21" cy="92.36" r="1.9" fill="#c07a64" stroke="#a50d2c" stroke-width="1.65"/>
<circle cx="449.36" cy="95.90" r="1.9" fill="#c07a64" stroke="#a50d2c" stroke-width="1.65"/>
<circle cx="457.59" cy="96.38" r="1.9" fill="#c07a64" stroke="#a50d2c" stroke-width="1.65"/>
<circle cx="442.37" cy="99.62" r="1.9" fill="#c07a64" stroke="#a50d2c" stroke-width="1.65"/>
<circle cx="447.31" cy="98.68" r="1.9" fill="#c07a64" stroke="#a50d2c" stroke-width="1.65"/>
<circle cx="455.34" cy="98.80" r="1.9" fill="#c07a64" stroke="#a50d2c" stroke-width="1.65"/>
<circle cx="460.57" cy="98.91" r="1.9" fill="#c07a64" stroke="#a50d2c" stroke-width="1.65"/>
<circle cx="464.40" cy="99.45" r="1.9" fill="#c07a64" stroke="#a50d2c" stroke-width="1.65"/>
<circle cx="441.32" cy="102.87" r="1.9" fill="#c07a64" stroke="#a50d2c" stroke-width="1.65"/>
<circle cx="445.55" cy="102.32" r="1.9" fill="#c07a64" stroke="#a50d2c" stroke-width="1.65"/>
<circle cx="448.83" cy="102.10" r="1.9" fill="#c07a64" stroke="#a50d2c" stroke-width="1.65"/>
<circle cx="458.04" cy="101.90" r="1.9" fill="#c07a64" stroke="#a50d2c" stroke-width="1.65"/>
<circle cx="461.97" cy="102.33" r="1.9" fill="#c07a64" stroke="#a50d2c" stroke-width="1.65"/>
<circle cx="466.47" cy="102.34" r="1.9" fill="#c07a64" stroke="#a50d2c" stroke-width="1.65"/>
<circle cx="438.84" cy="105.38" r="1.9" fill="#c07a64" stroke="#a50d2c" stroke-width="1.65"/>
<circle cx="442.18" cy="106.35" r="1.9" fill="#c07a64" stroke="#a50d2c" stroke-width="1.65"/>
<circle cx="446.48" cy="106.40" r="1.9" fill="#c07a64" stroke="#a50d2c" stroke-width="1.65"/>
<circle cx="451.56" cy="105.31" r="1.9" fill="#c07a64" stroke="#a50d2c" stroke-width="1.65"/>
<circle cx="460.69" cy="105.58" r="1.9" fill="#c07a64" stroke="#a50d2c" stroke-width="1.65"/>
<circle cx="464.95" cy="106.62" r="1.9" fill="#c07a64" stroke="#a50d2c" stroke-width="1.65"/>
<circle cx="468.45" cy="106.03" r="1.9" fill="#c07a64" stroke="#a50d2c" stroke-width="1.65"/>
<circle cx="435.85" cy="109.75" r="1.9" fill="#c07a64" stroke="#a50d2c" stroke-width="1.65"/>
<circle cx="441.20" cy="108.75" r="1.9" fill="#c07a64" stroke="#a50d2c" stroke-width="1.65"/>
<circle cx="444.43" cy="109.18" r="1.9" fill="#c07a64" stroke="#a50d2c" stroke-width="1.65"/>
<circle cx="449.89" cy="109.18" r="1.9" fill="#c07a64" stroke="#a50d2c" stroke-width="1.65"/>
<circle cx="453.66" cy="109.14" r="1.9" fill="#c07a64" stroke="#a50d2c" stroke-width="1.65"/>
<circle cx="457.45" cy="108.81" r="1.9" fill="#c07a64" stroke="#a50d2c" stroke-width="1.65"/>
<circle cx="462.46" cy="110.10" r="1.9" fill="#c07a64" stroke="#a50d2c" stroke-width="1.65"/>
<circle cx="465.87" cy="110.08" r="1.9" fill="#c07a64" stroke="#a50d2c" stroke-width="1.65"/>
<circle cx="470.67" cy="109.03" r="1.9" fill="#c07a64" stroke="#a50d2c" stroke-width="1.65"/>
<circle cx="439.01" cy="112.74" r="1.9" fill="#c07a64" stroke="#a50d2c" stroke-width="1.65"/>
<circle cx="442.23" cy="113.38" r="1.9" fill="#c07a64" stroke="#a50d2c" stroke-width="1.65"/>
<circle cx="451.92" cy="112.28" r="1.9" fill="#c07a64" stroke="#a50d2c" stroke-width="1.65"/>
<circle cx="456.38" cy="112.98" r="1.9" fill="#c07a64" stroke="#a50d2c" stroke-width="1.65"/>
<circle cx="459.50" cy="112.71" r="1.9" fill="#c07a64" stroke="#a50d2c" stroke-width="1.65"/>
<circle cx="464.83" cy="112.51" r="1.9" fill="#c07a64" stroke="#a50d2c" stroke-width="1.65"/>
<circle cx="469.35" cy="113.29" r="1.9" fill="#c07a64" stroke="#a50d2c" stroke-width="1.65"/>
<circle cx="436.33" cy="116.18" r="1.9" fill="#c07a64" stroke="#a50d2c" stroke-width="1.65"/>
<circle cx="440.67" cy="115.91" r="1.9" fill="#c07a64" stroke="#a50d2c" stroke-width="1.65"/>
<circle cx="444.51" cy="116.03" r="1.9" fill="#c07a64" stroke="#a50d2c" stroke-width="1.65"/>
<circle cx="449.94" cy="116.38" r="1.9" fill="#c07a64" stroke="#a50d2c" stroke-width="1.65"/>
<circle cx="453.37" cy="115.62" r="1.9" fill="#c07a64" stroke="#a50d2c" stroke-width="1.65"/>
<circle cx="458.29" cy="116.71" r="1.9" fill="#c07a64" stroke="#a50d2c" stroke-width="1.65"/>
<circle cx="462.60" cy="116.58" r="1.9" fill="#c07a64" stroke="#a50d2c" stroke-width="1.65"/>
<circle cx="466.73" cy="116.56" r="1.9" fill="#c07a64" stroke="#a50d2c" stroke-width="1.65"/>
<circle cx="471.09" cy="115.89" r="1.9" fill="#c07a64" stroke="#a50d2c" stroke-width="1.65"/>
<circle cx="434.63" cy="119.87" r="1.9" fill="#c07a64" stroke="#a50d2c" stroke-width="1.65"/>
<circle cx="439.17" cy="119.81" r="1.9" fill="#c07a64" stroke="#a50d2c" stroke-width="1.65"/>
<circle cx="442.17" cy="119.67" r="1.9" fill="#c07a64" stroke="#a50d2c" stroke-width="1.65"/>
<circle cx="447.39" cy="119.55" r="1.9" fill="#c07a64" stroke="#a50d2c" stroke-width="1.65"/>
<circle cx="451.66" cy="120.02" r="1.9" fill="#c07a64" stroke="#a50d2c" stroke-width="1.65"/>
<circle cx="455.95" cy="119.93" r="1.9" fill="#c07a64" stroke="#a50d2c" stroke-width="1.65"/>
<circle cx="459.84" cy="120.08" r="1.9" fill="#c07a64" stroke="#a50d2c" stroke-width="1.65"/>
<circle cx="464.61" cy="120.27" r="1.9" fill="#c07a64" stroke="#a50d2c" stroke-width="1.65"/>
<circle cx="468.68" cy="119.64" r="1.9" fill="#c07a64" stroke="#a50d2c" stroke-width="1.65"/>
<circle cx="473.42" cy="120.21" r="1.9" fill="#c07a64" stroke="#a50d2c" stroke-width="1.65"/>
<circle cx="436.67" cy="123.31" r="1.9" fill="#c07a64" stroke="#a50d2c" stroke-width="1.65"/>
<circle cx="440.24" cy="123.39" r="1.9" fill="#c07a64" stroke="#a50d2c" stroke-width="1.65"/>
<circle cx="445.23" cy="122.89" r="1.9" fill="#c07a64" stroke="#a50d2c" stroke-width="1.65"/>
<circle cx="449.68" cy="123.19" r="1.9" fill="#c07a64" stroke="#a50d2c" stroke-width="1.65"/>
<circle cx="452.94" cy="122.52" r="1.9" fill="#c07a64" stroke="#a50d2c" stroke-width="1.65"/>
<circle cx="458.11" cy="122.61" r="1.9" fill="#c07a64" stroke="#a50d2c" stroke-width="1.65"/>
<circle cx="462.38" cy="122.36" r="1.9" fill="#c07a64" stroke="#a50d2c" stroke-width="1.65"/>
<circle cx="466.12" cy="122.38" r="1.9" fill="#c07a64" stroke="#a50d2c" stroke-width="1.65"/>
<circle cx="470.54" cy="122.55" r="1.9" fill="#c07a64" stroke="#a50d2c" stroke-width="1.65"/>
<circle cx="433.60" cy="126.35" r="1.9" fill="#c07a64" stroke="#a50d2c" stroke-width="1.65"/>
<circle cx="438.71" cy="126.53" r="1.9" fill="#c07a64" stroke="#a50d2c" stroke-width="1.65"/>
<circle cx="443.41" cy="125.70" r="1.9" fill="#c07a64" stroke="#a50d2c" stroke-width="1.65"/>
<circle cx="446.84" cy="126.27" r="1.9" fill="#c07a64" stroke="#a50d2c" stroke-width="1.65"/>
<circle cx="451.91" cy="126.22" r="1.9" fill="#c07a64" stroke="#a50d2c" stroke-width="1.65"/>
<circle cx="459.48" cy="126.46" r="1.9" fill="#c07a64" stroke="#a50d2c" stroke-width="1.65"/>
<circle cx="464.46" cy="127.04" r="1.9" fill="#c07a64" stroke="#a50d2c" stroke-width="1.65"/>
<circle cx="468.54" cy="126.84" r="1.9" fill="#c07a64" stroke="#a50d2c" stroke-width="1.65"/>
<circle cx="472.77" cy="125.90" r="1.9" fill="#c07a64" stroke="#a50d2c" stroke-width="1.65"/>
<circle cx="436.49" cy="130.44" r="1.9" fill="#c07a64" stroke="#a50d2c" stroke-width="1.65"/>
<circle cx="440.85" cy="129.59" r="1.9" fill="#c07a64" stroke="#a50d2c" stroke-width="1.65"/>
<circle cx="444.30" cy="129.25" r="1.9" fill="#c07a64" stroke="#a50d2c" stroke-width="1.65"/>
<circle cx="449.46" cy="129.30" r="1.9" fill="#c07a64" stroke="#a50d2c" stroke-width="1.65"/>
<circle cx="454.15" cy="129.63" r="1.9" fill="#c07a64" stroke="#a50d2c" stroke-width="1.65"/>
<circle cx="457.52" cy="129.51" r="1.9" fill="#c07a64" stroke="#a50d2c" stroke-width="1.65"/>
<circle cx="462.03" cy="130.45" r="1.9" fill="#c07a64" stroke="#a50d2c" stroke-width="1.65"/>
<circle cx="466.63" cy="129.46" r="1.9" fill="#c07a64" stroke="#a50d2c" stroke-width="1.65"/>
<circle cx="470.79" cy="129.68" r="1.9" fill="#c07a64" stroke="#a50d2c" stroke-width="1.65"/>
<circle cx="439.23" cy="133.19" r="1.9" fill="#c07a64" stroke="#a50d2c" stroke-width="1.65"/>
<circle cx="442.82" cy="132.67" r="1.9" fill="#c07a64" stroke="#a50d2c" stroke-width="1.65"/>
<circle cx="447.07" cy="132.91" r="1.9" fill="#c07a64" stroke="#a50d2c" stroke-width="1.65"/>
<circle cx="451.91" cy="132.52" r="1.9" fill="#c07a64" stroke="#a50d2c" stroke-width="1.65"/>
<circle cx="455.43" cy="133.81" r="1.9" fill="#c07a64" stroke="#a50d2c" stroke-width="1.65"/>
<circle cx="459.69" cy="132.87" r="1.9" fill="#c07a64" stroke="#a50d2c" stroke-width="1.65"/>
<circle cx="465.03" cy="132.91" r="1.9" fill="#c07a64" stroke="#a50d2c" stroke-width="1.65"/>
<circle cx="468.61" cy="133.40" r="1.9" fill="#c07a64" stroke="#a50d2c" stroke-width="1.65"/>
<circle cx="436.74" cy="136.07" r="1.9" fill="#c07a64" stroke="#a50d2c" stroke-width="1.65"/>
<circle cx="440.42" cy="136.65" r="1.9" fill="#c07a64" stroke="#a50d2c" stroke-width="1.65"/>
<circle cx="444.72" cy="136.64" r="1.9" fill="#c07a64" stroke="#a50d2c" stroke-width="1.65"/>
<circle cx="449.11" cy="136.94" r="1.9" fill="#c07a64" stroke="#a50d2c" stroke-width="1.65"/>
<circle cx="452.95" cy="136.25" r="1.9" fill="#c07a64" stroke="#a50d2c" stroke-width="1.65"/>
<circle cx="458.48" cy="137.14" r="1.9" fill="#c07a64" stroke="#a50d2c" stroke-width="1.65"/>
<circle cx="461.52" cy="136.99" r="1.9" fill="#c07a64" stroke="#a50d2c" stroke-width="1.65"/>
<circle cx="466.61" cy="136.89" r="1.9" fill="#c07a64" stroke="#a50d2c" stroke-width="1.65"/>
<circle cx="470.77" cy="137.18" r="1.9" fill="#c07a64" stroke="#a50d2c" stroke-width="1.65"/>
<circle cx="438.40" cy="140.49" r="1.9" fill="#c07a64" stroke="#a50d2c" stroke-width="1.65"/>
<circle cx="442.57" cy="140.46" r="1.9" fill="#c07a64" stroke="#a50d2c" stroke-width="1.65"/>
<circle cx="451.72" cy="139.91" r="1.9" fill="#c07a64" stroke="#a50d2c" stroke-width="1.65"/>
<circle cx="456.14" cy="140.57" r="1.9" fill="#c07a64" stroke="#a50d2c" stroke-width="1.65"/>
<circle cx="460.02" cy="140.07" r="1.9" fill="#c07a64" stroke="#a50d2c" stroke-width="1.65"/>
<circle cx="464.11" cy="139.51" r="1.9" fill="#c07a64" stroke="#a50d2c" stroke-width="1.65"/>
<circle cx="469.09" cy="139.40" r="1.9" fill="#c07a64" stroke="#a50d2c" stroke-width="1.65"/>
<circle cx="441.15" cy="143.81" r="1.9" fill="#c07a64" stroke="#a50d2c" stroke-width="1.65"/>
<circle cx="444.34" cy="143.71" r="1.9" fill="#c07a64" stroke="#a50d2c" stroke-width="1.65"/>
<circle cx="450.00" cy="143.68" r="1.9" fill="#c07a64" stroke="#a50d2c" stroke-width="1.65"/>
<circle cx="457.51" cy="143.60" r="1.9" fill="#c07a64" stroke="#a50d2c" stroke-width="1.65"/>
<circle cx="462.50" cy="142.89" r="1.9" fill="#c07a64" stroke="#a50d2c" stroke-width="1.65"/>
<circle cx="467.09" cy="142.91" r="1.9" fill="#c07a64" stroke="#a50d2c" stroke-width="1.65"/>
<line x1="431.80" y1="121.00" x2="475.60" y2="121.00" stroke="#000" stroke-width="1.4"/>
<line x1="453.70" y1="117.80" x2="453.70" y2="124.40" stroke="#000" stroke-width="1.4"/>
<line x1="443.00" y1="117.80" x2="464.40" y2="117.80" stroke="#000" stroke-width="1.4"/>
<line x1="443.00" y1="124.40" x2="464.40" y2="124.40" stroke="#000" stroke-width="1.4"/>
<line x1="82.10" y1="330.80" x2="82.10" y2="491.90" stroke="#000" stroke-width="1.5"/>
<line x1="81.40" y1="491.90" x2="250.80" y2="491.90" stroke="#000" stroke-width="1.5"/>
<line x1="77.70" y1="335.60" x2="82.10" y2="335.60" stroke="#000" stroke-width="1.5"/>
<text x="46.42" y="339.30" font-size="10.3" textLength="27.04" lengthAdjust="spacingAndGlyphs">1024</text>
<line x1="77.70" y1="349.81" x2="82.10" y2="349.81" stroke="#000" stroke-width="1.5"/>
<text x="53.43" y="353.51" font-size="10.3" textLength="20.28" lengthAdjust="spacingAndGlyphs">512</text>
<line x1="77.70" y1="364.02" x2="82.10" y2="364.02" stroke="#000" stroke-width="1.5"/>
<text x="53.36" y="367.72" font-size="10.3" textLength="20.28" lengthAdjust="spacingAndGlyphs">256</text>
<line x1="77.70" y1="378.23" x2="82.10" y2="378.23" stroke="#000" stroke-width="1.5"/>
<text x="53.35" y="381.93" font-size="10.3" textLength="20.28" lengthAdjust="spacingAndGlyphs">128</text>
<line x1="77.70" y1="392.44" x2="82.10" y2="392.44" stroke="#000" stroke-width="1.5"/>
<text x="59.94" y="396.14" font-size="10.3" textLength="13.52" lengthAdjust="spacingAndGlyphs">64</text>
<line x1="77.70" y1="406.65" x2="82.10" y2="406.65" stroke="#000" stroke-width="1.5"/>
<text x="60.19" y="410.35" font-size="10.3" textLength="13.52" lengthAdjust="spacingAndGlyphs">32</text>
<line x1="77.70" y1="420.86" x2="82.10" y2="420.86" stroke="#000" stroke-width="1.5"/>
<text x="60.12" y="424.56" font-size="10.3" textLength="13.52" lengthAdjust="spacingAndGlyphs">16</text>
<line x1="77.70" y1="435.07" x2="82.10" y2="435.07" stroke="#000" stroke-width="1.5"/>
<text x="66.87" y="438.77" font-size="10.3" textLength="6.76" lengthAdjust="spacingAndGlyphs">8</text>
<line x1="77.70" y1="449.28" x2="82.10" y2="449.28" stroke="#000" stroke-width="1.5"/>
<text x="66.70" y="452.98" font-size="10.3" textLength="6.76" lengthAdjust="spacingAndGlyphs">4</text>
<line x1="77.70" y1="463.49" x2="82.10" y2="463.49" stroke="#000" stroke-width="1.5"/>
<text x="66.95" y="467.19" font-size="10.3" textLength="6.76" lengthAdjust="spacingAndGlyphs">2</text>
<line x1="77.70" y1="477.70" x2="82.10" y2="477.70" stroke="#000" stroke-width="1.5"/>
<text x="66.93" y="481.40" font-size="10.3" textLength="6.76" lengthAdjust="spacingAndGlyphs">1</text>
<line x1="77.70" y1="491.91" x2="82.10" y2="491.91" stroke="#000" stroke-width="1.5"/>
<text x="56.71" y="495.61" font-size="10.3" textLength="16.90" lengthAdjust="spacingAndGlyphs">0.5</text>
<line x1="79.90" y1="483.51" x2="82.10" y2="483.51" stroke="#000" stroke-width="1.5"/>
<line x1="79.90" y1="469.30" x2="82.10" y2="469.30" stroke="#000" stroke-width="1.5"/>
<line x1="79.90" y1="455.09" x2="82.10" y2="455.09" stroke="#000" stroke-width="1.5"/>
<line x1="79.90" y1="440.88" x2="82.10" y2="440.88" stroke="#000" stroke-width="1.5"/>
<line x1="79.90" y1="426.67" x2="82.10" y2="426.67" stroke="#000" stroke-width="1.5"/>
<line x1="79.90" y1="412.46" x2="82.10" y2="412.46" stroke="#000" stroke-width="1.5"/>
<line x1="79.90" y1="398.25" x2="82.10" y2="398.25" stroke="#000" stroke-width="1.5"/>
<line x1="79.90" y1="384.04" x2="82.10" y2="384.04" stroke="#000" stroke-width="1.5"/>
<line x1="79.90" y1="369.83" x2="82.10" y2="369.83" stroke="#000" stroke-width="1.5"/>
<line x1="79.90" y1="355.62" x2="82.10" y2="355.62" stroke="#000" stroke-width="1.5"/>
<line x1="79.90" y1="341.41" x2="82.10" y2="341.41" stroke="#000" stroke-width="1.5"/>
<line x1="109.40" y1="491.90" x2="109.40" y2="496.50" stroke="#000" stroke-width="1.5"/>
<text x="101.56" y="511.00" font-size="10.0" textLength="15.71" lengthAdjust="spacingAndGlyphs">0.5</text>
<line x1="133.03" y1="491.90" x2="133.03" y2="496.50" stroke="#000" stroke-width="1.5"/>
<text x="129.89" y="511.00" font-size="10.0" textLength="6.28" lengthAdjust="spacingAndGlyphs">2</text>
<line x1="156.66" y1="491.90" x2="156.66" y2="496.50" stroke="#000" stroke-width="1.5"/>
<text x="153.52" y="511.00" font-size="10.0" textLength="6.28" lengthAdjust="spacingAndGlyphs">8</text>
<line x1="180.29" y1="491.90" x2="180.29" y2="496.50" stroke="#000" stroke-width="1.5"/>
<text x="174.07" y="511.00" font-size="10.0" textLength="12.57" lengthAdjust="spacingAndGlyphs">32</text>
<line x1="203.92" y1="491.90" x2="203.92" y2="496.50" stroke="#000" stroke-width="1.5"/>
<text x="194.31" y="511.00" font-size="10.0" textLength="18.85" lengthAdjust="spacingAndGlyphs">128</text>
<line x1="227.55" y1="491.90" x2="227.55" y2="496.50" stroke="#000" stroke-width="1.5"/>
<text x="218.18" y="511.00" font-size="10.0" textLength="18.85" lengthAdjust="spacingAndGlyphs">512</text>
<line x1="100.00" y1="491.90" x2="100.00" y2="494.20" stroke="#000" stroke-width="1.5"/>
<line x1="123.63" y1="491.90" x2="123.63" y2="494.20" stroke="#000" stroke-width="1.5"/>
<line x1="147.26" y1="491.90" x2="147.26" y2="494.20" stroke="#000" stroke-width="1.5"/>
<line x1="170.89" y1="491.90" x2="170.89" y2="494.20" stroke="#000" stroke-width="1.5"/>
<line x1="194.52" y1="491.90" x2="194.52" y2="494.20" stroke="#000" stroke-width="1.5"/>
<line x1="218.15" y1="491.90" x2="218.15" y2="494.20" stroke="#000" stroke-width="1.5"/>
<line x1="241.78" y1="491.90" x2="241.78" y2="494.20" stroke="#000" stroke-width="1.5"/>
<text x="127.24" y="530.00" font-size="12.6" textLength="36.20" lengthAdjust="spacingAndGlyphs" style="stroke-width:0.5px">Histones</text>
<text x="166.44" y="530.00" font-size="12.6" textLength="21.26" lengthAdjust="spacingAndGlyphs" style="stroke-width:0.5px">(µg/</text>
<text x="190.09" y="530.00" font-size="12.6" textLength="14.77" lengthAdjust="spacingAndGlyphs" style="stroke-width:0.5px">ml)</text>
<text x="37.90" y="467.68" font-size="13" textLength="23.80" lengthAdjust="spacingAndGlyphs" transform="rotate(-90 37.90 467.68)" style="stroke-width:0.5px">Fibrin</text>
<text x="37.90" y="441.11" font-size="13" textLength="43.44" lengthAdjust="spacingAndGlyphs" transform="rotate(-90 37.90 441.11)" style="stroke-width:0.5px">monomers</text>
<text x="37.90" y="394.76" font-size="13" textLength="21.46" lengthAdjust="spacingAndGlyphs" transform="rotate(-90 37.90 394.76)" style="stroke-width:0.5px">(µg/</text>
<text x="37.90" y="369.55" font-size="13" textLength="13.66" lengthAdjust="spacingAndGlyphs" transform="rotate(-90 37.90 369.55)" style="stroke-width:0.5px">ml)</text>
<text x="130.28" y="333.10" font-size="9.5" textLength="89.25" lengthAdjust="spacingAndGlyphs" style="stroke:none">r = 0.56; p=&lt;0.001</text>
<circle cx="155.10" cy="371.20" r="1.95" fill="#dfe0e8" stroke="#363b55" stroke-width="1.35"/>
<circle cx="156.90" cy="377.40" r="1.95" fill="#dfe0e8" stroke="#363b55" stroke-width="1.35"/>
<circle cx="164.30" cy="376.90" r="1.95" fill="#dfe0e8" stroke="#363b55" stroke-width="1.35"/>
<circle cx="156.20" cy="383.40" r="1.95" fill="#dfe0e8" stroke="#363b55" stroke-width="1.35"/>
<circle cx="157.70" cy="386.20" r="1.95" fill="#dfe0e8" stroke="#363b55" stroke-width="1.35"/>
<circle cx="173.80" cy="379.70" r="1.95" fill="#dfe0e8" stroke="#363b55" stroke-width="1.35"/>
<circle cx="178.50" cy="382.80" r="1.95" fill="#dfe0e8" stroke="#363b55" stroke-width="1.35"/>
<circle cx="181.50" cy="372.30" r="1.95" fill="#dfe0e8" stroke="#363b55" stroke-width="1.35"/>
<circle cx="186.20" cy="371.10" r="1.95" fill="#dfe0e8" stroke="#363b55" stroke-width="1.35"/>
<circle cx="186.90" cy="375.40" r="1.95" fill="#dfe0e8" stroke="#363b55" stroke-width="1.35"/>
<circle cx="184.90" cy="379.70" r="1.95" fill="#dfe0e8" stroke="#363b55" stroke-width="1.35"/>
<circle cx="182.60" cy="386.20" r="1.95" fill="#dfe0e8" stroke="#363b55" stroke-width="1.35"/>
<circle cx="172.30" cy="386.60" r="1.95" fill="#dfe0e8" stroke="#363b55" stroke-width="1.35"/>
<circle cx="170.30" cy="390.30" r="1.95" fill="#dfe0e8" stroke="#363b55" stroke-width="1.35"/>
<circle cx="176.20" cy="395.40" r="1.95" fill="#dfe0e8" stroke="#363b55" stroke-width="1.35"/>
<circle cx="161.80" cy="403.10" r="1.95" fill="#dfe0e8" stroke="#363b55" stroke-width="1.35"/>
<circle cx="153.50" cy="413.40" r="1.95" fill="#dfe0e8" stroke="#363b55" stroke-width="1.35"/>
<circle cx="137.40" cy="416.60" r="1.95" fill="#dfe0e8" stroke="#363b55" stroke-width="1.35"/>
<circle cx="164.20" cy="419.20" r="1.95" fill="#dfe0e8" stroke="#363b55" stroke-width="1.35"/>
<circle cx="177.70" cy="422.30" r="1.95" fill="#dfe0e8" stroke="#363b55" stroke-width="1.35"/>
<circle cx="177.70" cy="425.10" r="1.95" fill="#dfe0e8" stroke="#363b55" stroke-width="1.35"/>
<circle cx="183.10" cy="425.30" r="1.95" fill="#dfe0e8" stroke="#363b55" stroke-width="1.35"/>
<circle cx="147.70" cy="430.50" r="1.95" fill="#dfe0e8" stroke="#363b55" stroke-width="1.35"/>
<circle cx="153.10" cy="431.20" r="1.95" fill="#dfe0e8" stroke="#363b55" stroke-width="1.35"/>
<circle cx="149.70" cy="434.20" r="1.95" fill="#dfe0e8" stroke="#363b55" stroke-width="1.35"/>
<circle cx="146.90" cy="436.20" r="1.95" fill="#dfe0e8" stroke="#363b55" stroke-width="1.35"/>
<circle cx="154.30" cy="437.20" r="1.95" fill="#dfe0e8" stroke="#363b55" stroke-width="1.35"/>
<circle cx="150.80" cy="441.20" r="1.95" fill="#dfe0e8" stroke="#363b55" stroke-width="1.35"/>
<circle cx="163.50" cy="434.30" r="1.95" fill="#dfe0e8" stroke="#363b55" stroke-width="1.35"/>
<circle cx="169.20" cy="433.80" r="1.95" fill="#dfe0e8" stroke="#363b55" stroke-width="1.35"/>
<circle cx="166.20" cy="439.70" r="1.95" fill="#dfe0e8" stroke="#363b55" stroke-width="1.35"/>
<circle cx="169.70" cy="441.20" r="1.95" fill="#dfe0e8" stroke="#363b55" stroke-width="1.35"/>
<circle cx="180.80" cy="436.50" r="1.95" fill="#dfe0e8" stroke="#363b55" stroke-width="1.35"/>
<circle cx="186.90" cy="437.70" r="1.95" fill="#dfe0e8" stroke="#363b55" stroke-width="1.35"/>
<circle cx="188.00" cy="435.40" r="1.95" fill="#dfe0e8" stroke="#363b55" stroke-width="1.35"/>
<circle cx="177.20" cy="446.90" r="1.95" fill="#dfe0e8" stroke="#363b55" stroke-width="1.35"/>
<circle cx="119.20" cy="453.80" r="1.95" fill="#dfe0e8" stroke="#363b55" stroke-width="1.35"/>
<circle cx="125.40" cy="452.30" r="1.95" fill="#dfe0e8" stroke="#363b55" stroke-width="1.35"/>
<circle cx="157.20" cy="456.20" r="1.95" fill="#dfe0e8" stroke="#363b55" stroke-width="1.35"/>
<circle cx="193.50" cy="377.20" r="1.95" fill="#dfe0e8" stroke="#363b55" stroke-width="1.35"/>
<circle cx="196.80" cy="371.40" r="1.95" fill="#dfe0e8" stroke="#363b55" stroke-width="1.35"/>
<circle cx="200.90" cy="373.50" r="1.95" fill="#dfe0e8" stroke="#363b55" stroke-width="1.35"/>
<circle cx="202.90" cy="369.70" r="1.95" fill="#dfe0e8" stroke="#363b55" stroke-width="1.35"/>
<circle cx="206.50" cy="371.00" r="1.95" fill="#dfe0e8" stroke="#363b55" stroke-width="1.35"/>
<circle cx="194.10" cy="391.20" r="1.95" fill="#dfe0e8" stroke="#363b55" stroke-width="1.35"/>
<circle cx="224.70" cy="375.50" r="1.95" fill="#dfe0e8" stroke="#363b55" stroke-width="1.35"/>
<circle cx="232.90" cy="370.50" r="1.95" fill="#dfe0e8" stroke="#363b55" stroke-width="1.35"/>
<circle cx="219.40" cy="410.70" r="1.95" fill="#dfe0e8" stroke="#363b55" stroke-width="1.35"/>
<circle cx="194.40" cy="449.90" r="1.95" fill="#dfe0e8" stroke="#363b55" stroke-width="1.35"/>
<line x1="344.40" y1="338.30" x2="344.40" y2="491.90" stroke="#000" stroke-width="1.5"/>
<line x1="343.70" y1="491.90" x2="509.60" y2="491.90" stroke="#000" stroke-width="1.5"/>
<line x1="340.00" y1="341.50" x2="344.40" y2="341.50" stroke="#000" stroke-width="1.5"/>
<text x="301.68" y="345.20" font-size="10.3" textLength="33.80" lengthAdjust="spacingAndGlyphs">40960</text>
<line x1="340.00" y1="368.86" x2="344.40" y2="368.86" stroke="#000" stroke-width="1.5"/>
<text x="301.68" y="372.56" font-size="10.3" textLength="33.80" lengthAdjust="spacingAndGlyphs">10240</text>
<line x1="340.00" y1="396.22" x2="344.40" y2="396.22" stroke="#000" stroke-width="1.5"/>
<text x="308.44" y="399.92" font-size="10.3" textLength="27.04" lengthAdjust="spacingAndGlyphs">2560</text>
<line x1="340.00" y1="423.58" x2="344.40" y2="423.58" stroke="#000" stroke-width="1.5"/>
<text x="315.20" y="427.28" font-size="10.3" textLength="20.28" lengthAdjust="spacingAndGlyphs">640</text>
<line x1="340.00" y1="450.94" x2="344.40" y2="450.94" stroke="#000" stroke-width="1.5"/>
<text x="315.20" y="454.64" font-size="10.3" textLength="20.28" lengthAdjust="spacingAndGlyphs">160</text>
<line x1="340.00" y1="478.30" x2="344.40" y2="478.30" stroke="#000" stroke-width="1.5"/>
<text x="321.96" y="482.00" font-size="10.3" textLength="13.52" lengthAdjust="spacingAndGlyphs">40</text>
<line x1="342.20" y1="348.80" x2="344.40" y2="348.80" stroke="#000" stroke-width="1.5"/>
<line x1="342.20" y1="357.00" x2="344.40" y2="357.00" stroke="#000" stroke-width="1.5"/>
<line x1="342.20" y1="376.16" x2="344.40" y2="376.16" stroke="#000" stroke-width="1.5"/>
<line x1="342.20" y1="384.36" x2="344.40" y2="384.36" stroke="#000" stroke-width="1.5"/>
<line x1="342.20" y1="403.52" x2="344.40" y2="403.52" stroke="#000" stroke-width="1.5"/>
<line x1="342.20" y1="411.72" x2="344.40" y2="411.72" stroke="#000" stroke-width="1.5"/>
<line x1="342.20" y1="430.88" x2="344.40" y2="430.88" stroke="#000" stroke-width="1.5"/>
<line x1="342.20" y1="439.08" x2="344.40" y2="439.08" stroke="#000" stroke-width="1.5"/>
<line x1="342.20" y1="458.24" x2="344.40" y2="458.24" stroke="#000" stroke-width="1.5"/>
<line x1="342.20" y1="466.44" x2="344.40" y2="466.44" stroke="#000" stroke-width="1.5"/>
<line x1="342.20" y1="485.60" x2="344.40" y2="485.60" stroke="#000" stroke-width="1.5"/>
<line x1="371.50" y1="491.90" x2="371.50" y2="496.50" stroke="#000" stroke-width="1.5"/>
<text x="363.66" y="511.00" font-size="10.0" textLength="15.71" lengthAdjust="spacingAndGlyphs">0.5</text>
<line x1="394.62" y1="491.90" x2="394.62" y2="496.50" stroke="#000" stroke-width="1.5"/>
<text x="391.48" y="511.00" font-size="10.0" textLength="6.28" lengthAdjust="spacingAndGlyphs">2</text>
<line x1="417.74" y1="491.90" x2="417.74" y2="496.50" stroke="#000" stroke-width="1.5"/>
<text x="414.60" y="511.00" font-size="10.0" textLength="6.28" lengthAdjust="spacingAndGlyphs">8</text>
<line x1="440.86" y1="491.90" x2="440.86" y2="496.50" stroke="#000" stroke-width="1.5"/>
<text x="434.64" y="511.00" font-size="10.0" textLength="12.57" lengthAdjust="spacingAndGlyphs">32</text>
<line x1="463.98" y1="491.90" x2="463.98" y2="496.50" stroke="#000" stroke-width="1.5"/>
<text x="454.37" y="511.00" font-size="10.0" textLength="18.85" lengthAdjust="spacingAndGlyphs">128</text>
<line x1="487.10" y1="491.90" x2="487.10" y2="496.50" stroke="#000" stroke-width="1.5"/>
<text x="477.73" y="511.00" font-size="10.0" textLength="18.85" lengthAdjust="spacingAndGlyphs">512</text>
<line x1="362.10" y1="491.90" x2="362.10" y2="494.20" stroke="#000" stroke-width="1.5"/>
<line x1="385.22" y1="491.90" x2="385.22" y2="494.20" stroke="#000" stroke-width="1.5"/>
<line x1="408.34" y1="491.90" x2="408.34" y2="494.20" stroke="#000" stroke-width="1.5"/>
<line x1="431.46" y1="491.90" x2="431.46" y2="494.20" stroke="#000" stroke-width="1.5"/>
<line x1="454.58" y1="491.90" x2="454.58" y2="494.20" stroke="#000" stroke-width="1.5"/>
<line x1="477.70" y1="491.90" x2="477.70" y2="494.20" stroke="#000" stroke-width="1.5"/>
<line x1="500.82" y1="491.90" x2="500.82" y2="494.20" stroke="#000" stroke-width="1.5"/>
<text x="388.24" y="530.00" font-size="12.6" textLength="36.20" lengthAdjust="spacingAndGlyphs" style="stroke-width:0.5px">Histones</text>
<text x="427.44" y="530.00" font-size="12.6" textLength="21.26" lengthAdjust="spacingAndGlyphs" style="stroke-width:0.5px">(µg/</text>
<text x="451.09" y="530.00" font-size="12.6" textLength="14.77" lengthAdjust="spacingAndGlyphs" style="stroke-width:0.5px">ml)</text>
<text x="293.40" y="444.23" font-size="13" textLength="23.34" lengthAdjust="spacingAndGlyphs" transform="rotate(-90 293.40 444.23)" style="stroke-width:0.5px">F1+2</text>
<text x="293.40" y="416.69" font-size="13" textLength="29.79" lengthAdjust="spacingAndGlyphs" transform="rotate(-90 293.40 416.69)" style="stroke-width:0.5px">(ng/ml)</text>
<text x="390.78" y="333.00" font-size="9.5" textLength="88.75" lengthAdjust="spacingAndGlyphs" style="stroke:none">r = 0.34;  p= 0.001</text>
<circle cx="424.60" cy="373.50" r="1.95" fill="#dfe0e8" stroke="#363b55" stroke-width="1.35"/>
<circle cx="426.90" cy="375.70" r="1.95" fill="#dfe0e8" stroke="#363b55" stroke-width="1.35"/>
<circle cx="437.20" cy="373.50" r="1.95" fill="#dfe0e8" stroke="#363b55" stroke-width="1.35"/>
<circle cx="438.20" cy="381.50" r="1.95" fill="#dfe0e8" stroke="#363b55" stroke-width="1.35"/>
<circle cx="446.50" cy="390.50" r="1.95" fill="#dfe0e8" stroke="#363b55" stroke-width="1.35"/>
<circle cx="434.60" cy="410.80" r="1.95" fill="#dfe0e8" stroke="#363b55" stroke-width="1.35"/>
<circle cx="447.70" cy="416.60" r="1.95" fill="#dfe0e8" stroke="#363b55" stroke-width="1.35"/>
<circle cx="384.20" cy="428.30" r="1.95" fill="#dfe0e8" stroke="#363b55" stroke-width="1.35"/>
<circle cx="387.30" cy="426.60" r="1.95" fill="#dfe0e8" stroke="#363b55" stroke-width="1.35"/>
<circle cx="387.70" cy="430.00" r="1.95" fill="#dfe0e8" stroke="#363b55" stroke-width="1.35"/>
<circle cx="402.40" cy="433.50" r="1.95" fill="#dfe0e8" stroke="#363b55" stroke-width="1.35"/>
<circle cx="409.30" cy="431.20" r="1.95" fill="#dfe0e8" stroke="#363b55" stroke-width="1.35"/>
<circle cx="411.90" cy="422.60" r="1.95" fill="#dfe0e8" stroke="#363b55" stroke-width="1.35"/>
<circle cx="418.50" cy="420.90" r="1.95" fill="#dfe0e8" stroke="#363b55" stroke-width="1.35"/>
<circle cx="428.40" cy="423.80" r="1.95" fill="#dfe0e8" stroke="#363b55" stroke-width="1.35"/>
<circle cx="431.00" cy="420.90" r="1.95" fill="#dfe0e8" stroke="#363b55" stroke-width="1.35"/>
<circle cx="433.90" cy="427.30" r="1.95" fill="#dfe0e8" stroke="#363b55" stroke-width="1.35"/>
<circle cx="423.50" cy="433.50" r="1.95" fill="#dfe0e8" stroke="#363b55" stroke-width="1.35"/>
<circle cx="426.60" cy="431.20" r="1.95" fill="#dfe0e8" stroke="#363b55" stroke-width="1.35"/>
<circle cx="430.10" cy="432.10" r="1.95" fill="#dfe0e8" stroke="#363b55" stroke-width="1.35"/>
<circle cx="437.50" cy="434.70" r="1.95" fill="#dfe0e8" stroke="#363b55" stroke-width="1.35"/>
<circle cx="436.70" cy="438.20" r="1.95" fill="#dfe0e8" stroke="#363b55" stroke-width="1.35"/>
<circle cx="428.90" cy="440.40" r="1.95" fill="#dfe0e8" stroke="#363b55" stroke-width="1.35"/>
<circle cx="444.30" cy="440.80" r="1.95" fill="#dfe0e8" stroke="#363b55" stroke-width="1.35"/>
<circle cx="414.00" cy="440.40" r="1.95" fill="#dfe0e8" stroke="#363b55" stroke-width="1.35"/>
<circle cx="415.70" cy="441.60" r="1.95" fill="#dfe0e8" stroke="#363b55" stroke-width="1.35"/>
<circle cx="411.90" cy="442.50" r="1.95" fill="#dfe0e8" stroke="#363b55" stroke-width="1.35"/>
<circle cx="409.30" cy="445.10" r="1.95" fill="#dfe0e8" stroke="#363b55" stroke-width="1.35"/>
<circle cx="411.90" cy="445.60" r="1.95" fill="#dfe0e8" stroke="#363b55" stroke-width="1.35"/>
<circle cx="415.70" cy="444.20" r="1.95" fill="#dfe0e8" stroke="#363b55" stroke-width="1.35"/>
<circle cx="399.80" cy="449.80" r="1.95" fill="#dfe0e8" stroke="#363b55" stroke-width="1.35"/>
<circle cx="419.20" cy="452.40" r="1.95" fill="#dfe0e8" stroke="#363b55" stroke-width="1.35"/>
<circle cx="429.20" cy="450.60" r="1.95" fill="#dfe0e8" stroke="#363b55" stroke-width="1.35"/>
<circle cx="436.20" cy="449.80" r="1.95" fill="#dfe0e8" stroke="#363b55" stroke-width="1.35"/>
<circle cx="438.70" cy="446.30" r="1.95" fill="#dfe0e8" stroke="#363b55" stroke-width="1.35"/>
<circle cx="443.60" cy="448.60" r="1.95" fill="#dfe0e8" stroke="#363b55" stroke-width="1.35"/>
<circle cx="447.40" cy="445.60" r="1.95" fill="#dfe0e8" stroke="#363b55" stroke-width="1.35"/>
<circle cx="410.20" cy="456.30" r="1.95" fill="#dfe0e8" stroke="#363b55" stroke-width="1.35"/>
<circle cx="437.20" cy="457.20" r="1.95" fill="#dfe0e8" stroke="#363b55" stroke-width="1.35"/>
<circle cx="443.10" cy="460.20" r="1.95" fill="#dfe0e8" stroke="#363b55" stroke-width="1.35"/>
<circle cx="449.10" cy="461.50" r="1.95" fill="#dfe0e8" stroke="#363b55" stroke-width="1.35"/>
<circle cx="381.10" cy="467.20" r="1.95" fill="#dfe0e8" stroke="#363b55" stroke-width="1.35"/>
<circle cx="418.30" cy="467.20" r="1.95" fill="#dfe0e8" stroke="#363b55" stroke-width="1.35"/>
<circle cx="441.30" cy="467.20" r="1.95" fill="#dfe0e8" stroke="#363b55" stroke-width="1.35"/>
<circle cx="453.60" cy="373.60" r="1.95" fill="#dfe0e8" stroke="#363b55" stroke-width="1.35"/>
<circle cx="453.60" cy="379.30" r="1.95" fill="#dfe0e8" stroke="#363b55" stroke-width="1.35"/>
<circle cx="495.80" cy="377.30" r="1.95" fill="#dfe0e8" stroke="#363b55" stroke-width="1.35"/>
<circle cx="496.10" cy="378.90" r="1.95" fill="#dfe0e8" stroke="#363b55" stroke-width="1.35"/>
<circle cx="458.60" cy="389.70" r="1.95" fill="#dfe0e8" stroke="#363b55" stroke-width="1.35"/>
<circle cx="469.40" cy="393.90" r="1.95" fill="#dfe0e8" stroke="#363b55" stroke-width="1.35"/>
<circle cx="478.00" cy="388.20" r="1.95" fill="#dfe0e8" stroke="#363b55" stroke-width="1.35"/>
<circle cx="475.90" cy="408.60" r="1.95" fill="#dfe0e8" stroke="#363b55" stroke-width="1.35"/>
<circle cx="455.80" cy="413.60" r="1.95" fill="#dfe0e8" stroke="#363b55" stroke-width="1.35"/>
<circle cx="448.00" cy="416.90" r="1.95" fill="#dfe0e8" stroke="#363b55" stroke-width="1.35"/>
<circle cx="453.60" cy="420.30" r="1.95" fill="#dfe0e8" stroke="#363b55" stroke-width="1.35"/>
<circle cx="467.60" cy="422.60" r="1.95" fill="#dfe0e8" stroke="#363b55" stroke-width="1.35"/>
<circle cx="474.70" cy="422.30" r="1.95" fill="#dfe0e8" stroke="#363b55" stroke-width="1.35"/>
<circle cx="466.10" cy="425.90" r="1.95" fill="#dfe0e8" stroke="#363b55" stroke-width="1.35"/>
<circle cx="456.60" cy="428.20" r="1.95" fill="#dfe0e8" stroke="#363b55" stroke-width="1.35"/>
<circle cx="461.90" cy="428.30" r="1.95" fill="#dfe0e8" stroke="#363b55" stroke-width="1.35"/>
<circle cx="454.30" cy="430.90" r="1.95" fill="#dfe0e8" stroke="#363b55" stroke-width="1.35"/>
<circle cx="474.40" cy="432.70" r="1.95" fill="#dfe0e8" stroke="#363b55" stroke-width="1.35"/>
<circle cx="479.20" cy="438.70" r="1.95" fill="#dfe0e8" stroke="#363b55" stroke-width="1.35"/>
<circle cx="484.20" cy="444.50" r="1.95" fill="#dfe0e8" stroke="#363b55" stroke-width="1.35"/>
<circle cx="492.50" cy="451.30" r="1.95" fill="#dfe0e8" stroke="#363b55" stroke-width="1.35"/>
<circle cx="444.20" cy="440.70" r="1.95" fill="#dfe0e8" stroke="#363b55" stroke-width="1.35"/>
<circle cx="447.20" cy="445.20" r="1.95" fill="#dfe0e8" stroke="#363b55" stroke-width="1.35"/>
<circle cx="443.30" cy="448.20" r="1.95" fill="#dfe0e8" stroke="#363b55" stroke-width="1.35"/>
<circle cx="466.40" cy="441.50" r="1.95" fill="#dfe0e8" stroke="#363b55" stroke-width="1.35"/>
<circle cx="464.40" cy="446.00" r="1.95" fill="#dfe0e8" stroke="#363b55" stroke-width="1.35"/>
<circle cx="453.90" cy="451.00" r="1.95" fill="#dfe0e8" stroke="#363b55" stroke-width="1.35"/>
<circle cx="461.10" cy="454.30" r="1.95" fill="#dfe0e8" stroke="#363b55" stroke-width="1.35"/>
<circle cx="443.00" cy="459.90" r="1.95" fill="#dfe0e8" stroke="#363b55" stroke-width="1.35"/>
<circle cx="450.60" cy="461.80" r="1.95" fill="#dfe0e8" stroke="#363b55" stroke-width="1.35"/>
<line x1="82.30" y1="595.20" x2="82.30" y2="742.40" stroke="#000" stroke-width="1.5"/>
<line x1="81.60" y1="742.40" x2="241.00" y2="742.40" stroke="#000" stroke-width="1.5"/>
<line x1="77.90" y1="609.60" x2="82.30" y2="609.60" stroke="#000" stroke-width="1.5"/>
<text x="53.36" y="613.30" font-size="10.3" textLength="20.28" lengthAdjust="spacingAndGlyphs">256</text>
<line x1="77.90" y1="639.20" x2="82.30" y2="639.20" stroke="#000" stroke-width="1.5"/>
<text x="59.94" y="642.90" font-size="10.3" textLength="13.52" lengthAdjust="spacingAndGlyphs">64</text>
<line x1="77.90" y1="668.80" x2="82.30" y2="668.80" stroke="#000" stroke-width="1.5"/>
<text x="60.12" y="672.50" font-size="10.3" textLength="13.52" lengthAdjust="spacingAndGlyphs">16</text>
<line x1="77.90" y1="698.40" x2="82.30" y2="698.40" stroke="#000" stroke-width="1.5"/>
<text x="66.70" y="702.10" font-size="10.3" textLength="6.76" lengthAdjust="spacingAndGlyphs">4</text>
<line x1="77.90" y1="728.00" x2="82.30" y2="728.00" stroke="#000" stroke-width="1.5"/>
<text x="66.93" y="731.70" font-size="10.3" textLength="6.76" lengthAdjust="spacingAndGlyphs">1</text>
<line x1="80.10" y1="621.90" x2="82.30" y2="621.90" stroke="#000" stroke-width="1.5"/>
<line x1="80.10" y1="651.50" x2="82.30" y2="651.50" stroke="#000" stroke-width="1.5"/>
<line x1="80.10" y1="681.10" x2="82.30" y2="681.10" stroke="#000" stroke-width="1.5"/>
<line x1="80.10" y1="710.70" x2="82.30" y2="710.70" stroke="#000" stroke-width="1.5"/>
<line x1="80.10" y1="740.30" x2="82.30" y2="740.30" stroke="#000" stroke-width="1.5"/>
<line x1="107.70" y1="742.40" x2="107.70" y2="747.00" stroke="#000" stroke-width="1.5"/>
<text x="99.86" y="761.50" font-size="10.0" textLength="15.71" lengthAdjust="spacingAndGlyphs">0.5</text>
<line x1="130.00" y1="742.40" x2="130.00" y2="747.00" stroke="#000" stroke-width="1.5"/>
<text x="126.86" y="761.50" font-size="10.0" textLength="6.28" lengthAdjust="spacingAndGlyphs">2</text>
<line x1="152.30" y1="742.40" x2="152.30" y2="747.00" stroke="#000" stroke-width="1.5"/>
<text x="149.16" y="761.50" font-size="10.0" textLength="6.28" lengthAdjust="spacingAndGlyphs">8</text>
<line x1="174.60" y1="742.40" x2="174.60" y2="747.00" stroke="#000" stroke-width="1.5"/>
<text x="168.38" y="761.50" font-size="10.0" textLength="12.57" lengthAdjust="spacingAndGlyphs">32</text>
<line x1="196.90" y1="742.40" x2="196.90" y2="747.00" stroke="#000" stroke-width="1.5"/>
<text x="187.29" y="761.50" font-size="10.0" textLength="18.85" lengthAdjust="spacingAndGlyphs">128</text>
<line x1="219.20" y1="742.40" x2="219.20" y2="747.00" stroke="#000" stroke-width="1.5"/>
<text x="209.83" y="761.50" font-size="10.0" textLength="18.85" lengthAdjust="spacingAndGlyphs">512</text>
<line x1="98.70" y1="742.40" x2="98.70" y2="744.70" stroke="#000" stroke-width="1.5"/>
<line x1="121.00" y1="742.40" x2="121.00" y2="744.70" stroke="#000" stroke-width="1.5"/>
<line x1="143.30" y1="742.40" x2="143.30" y2="744.70" stroke="#000" stroke-width="1.5"/>
<line x1="165.60" y1="742.40" x2="165.60" y2="744.70" stroke="#000" stroke-width="1.5"/>
<line x1="187.90" y1="742.40" x2="187.90" y2="744.70" stroke="#000" stroke-width="1.5"/>
<line x1="210.20" y1="742.40" x2="210.20" y2="744.70" stroke="#000" stroke-width="1.5"/>
<line x1="232.50" y1="742.40" x2="232.50" y2="744.70" stroke="#000" stroke-width="1.5"/>
<text x="122.74" y="780.40" font-size="12.6" textLength="36.20" lengthAdjust="spacingAndGlyphs" style="stroke-width:0.5px">Histones</text>
<text x="161.94" y="780.40" font-size="12.6" textLength="21.26" lengthAdjust="spacingAndGlyphs" style="stroke-width:0.5px">(µg/</text>
<text x="185.59" y="780.40" font-size="12.6" textLength="14.77" lengthAdjust="spacingAndGlyphs" style="stroke-width:0.5px">ml)</text>
<text x="45.00" y="692.50" font-size="13.5" textLength="18.83" lengthAdjust="spacingAndGlyphs" transform="rotate(-90 45.00 692.50)" style="stroke-width:0.5px">OPG</text>
<text x="45.00" y="672.44" font-size="13.5" textLength="27.18" lengthAdjust="spacingAndGlyphs" transform="rotate(-90 45.00 672.44)" style="stroke-width:0.5px">ng/ml</text>
<text x="138.77" y="594.40" font-size="9.5" textLength="90.17" lengthAdjust="spacingAndGlyphs" style="stroke:none">r = 0.54; p=&lt;0.001</text>
<circle cx="190.20" cy="615.70" r="1.95" fill="#dfe0e8" stroke="#363b55" stroke-width="1.35"/>
<circle cx="180.40" cy="621.90" r="1.95" fill="#dfe0e8" stroke="#363b55" stroke-width="1.35"/>
<circle cx="216.30" cy="632.40" r="1.95" fill="#dfe0e8" stroke="#363b55" stroke-width="1.35"/>
<circle cx="165.60" cy="634.70" r="1.95" fill="#dfe0e8" stroke="#363b55" stroke-width="1.35"/>
<circle cx="153.60" cy="640.50" r="1.95" fill="#dfe0e8" stroke="#363b55" stroke-width="1.35"/>
<circle cx="162.70" cy="642.80" r="1.95" fill="#dfe0e8" stroke="#363b55" stroke-width="1.35"/>
<circle cx="178.70" cy="642.80" r="1.95" fill="#dfe0e8" stroke="#363b55" stroke-width="1.35"/>
<circle cx="204.50" cy="639.90" r="1.95" fill="#dfe0e8" stroke="#363b55" stroke-width="1.35"/>
<circle cx="210.40" cy="643.20" r="1.95" fill="#dfe0e8" stroke="#363b55" stroke-width="1.35"/>
<circle cx="216.60" cy="644.10" r="1.95" fill="#dfe0e8" stroke="#363b55" stroke-width="1.35"/>
<circle cx="148.60" cy="651.60" r="1.95" fill="#dfe0e8" stroke="#363b55" stroke-width="1.35"/>
<circle cx="167.60" cy="650.30" r="1.95" fill="#dfe0e8" stroke="#363b55" stroke-width="1.35"/>
<circle cx="156.50" cy="654.90" r="1.95" fill="#dfe0e8" stroke="#363b55" stroke-width="1.35"/>
<circle cx="172.20" cy="654.90" r="1.95" fill="#dfe0e8" stroke="#363b55" stroke-width="1.35"/>
<circle cx="173.50" cy="657.50" r="1.95" fill="#dfe0e8" stroke="#363b55" stroke-width="1.35"/>
<circle cx="167.30" cy="657.90" r="1.95" fill="#dfe0e8" stroke="#363b55" stroke-width="1.35"/>
<circle cx="182.60" cy="653.00" r="1.95" fill="#dfe0e8" stroke="#363b55" stroke-width="1.35"/>
<circle cx="192.80" cy="657.20" r="1.95" fill="#dfe0e8" stroke="#363b55" stroke-width="1.35"/>
<circle cx="187.20" cy="661.50" r="1.95" fill="#dfe0e8" stroke="#363b55" stroke-width="1.35"/>
<circle cx="157.10" cy="664.10" r="1.95" fill="#dfe0e8" stroke="#363b55" stroke-width="1.35"/>
<circle cx="186.60" cy="665.40" r="1.95" fill="#dfe0e8" stroke="#363b55" stroke-width="1.35"/>
<circle cx="190.20" cy="664.70" r="1.95" fill="#dfe0e8" stroke="#363b55" stroke-width="1.35"/>
<circle cx="194.10" cy="668.00" r="1.95" fill="#dfe0e8" stroke="#363b55" stroke-width="1.35"/>
<circle cx="175.50" cy="668.00" r="1.95" fill="#dfe0e8" stroke="#363b55" stroke-width="1.35"/>
<circle cx="211.10" cy="670.30" r="1.95" fill="#dfe0e8" stroke="#363b55" stroke-width="1.35"/>
<circle cx="168.90" cy="670.90" r="1.95" fill="#dfe0e8" stroke="#363b55" stroke-width="1.35"/>
<circle cx="171.50" cy="672.60" r="1.95" fill="#dfe0e8" stroke="#363b55" stroke-width="1.35"/>
<circle cx="176.40" cy="673.60" r="1.95" fill="#dfe0e8" stroke="#363b55" stroke-width="1.35"/>
<circle cx="187.50" cy="673.90" r="1.95" fill="#dfe0e8" stroke="#363b55" stroke-width="1.35"/>
<circle cx="159.80" cy="676.20" r="1.95" fill="#dfe0e8" stroke="#363b55" stroke-width="1.35"/>
<circle cx="158.50" cy="676.50" r="1.95" fill="#dfe0e8" stroke="#363b55" stroke-width="1.35"/>
<circle cx="167.60" cy="676.50" r="1.95" fill="#dfe0e8" stroke="#363b55" stroke-width="1.35"/>
<circle cx="184.00" cy="678.50" r="1.95" fill="#dfe0e8" stroke="#363b55" stroke-width="1.35"/>
<circle cx="199.00" cy="678.50" r="1.95" fill="#dfe0e8" stroke="#363b55" stroke-width="1.35"/>
<circle cx="202.30" cy="677.10" r="1.95" fill="#dfe0e8" stroke="#363b55" stroke-width="1.35"/>
<circle cx="207.50" cy="679.80" r="1.95" fill="#dfe0e8" stroke="#363b55" stroke-width="1.35"/>
<circle cx="119.90" cy="679.40" r="1.95" fill="#dfe0e8" stroke="#363b55" stroke-width="1.35"/>
<circle cx="123.50" cy="676.80" r="1.95" fill="#dfe0e8" stroke="#363b55" stroke-width="1.35"/>
<circle cx="137.50" cy="678.50" r="1.95" fill="#dfe0e8" stroke="#363b55" stroke-width="1.35"/>
<circle cx="150.30" cy="679.40" r="1.95" fill="#dfe0e8" stroke="#363b55" stroke-width="1.35"/>
<circle cx="152.60" cy="679.10" r="1.95" fill="#dfe0e8" stroke="#363b55" stroke-width="1.35"/>
<circle cx="181.30" cy="681.10" r="1.95" fill="#dfe0e8" stroke="#363b55" stroke-width="1.35"/>
<circle cx="179.40" cy="684.30" r="1.95" fill="#dfe0e8" stroke="#363b55" stroke-width="1.35"/>
<circle cx="134.30" cy="687.90" r="1.95" fill="#dfe0e8" stroke="#363b55" stroke-width="1.35"/>
<circle cx="145.40" cy="687.60" r="1.95" fill="#dfe0e8" stroke="#363b55" stroke-width="1.35"/>
<circle cx="146.70" cy="688.60" r="1.95" fill="#dfe0e8" stroke="#363b55" stroke-width="1.35"/>
<circle cx="150.30" cy="688.30" r="1.95" fill="#dfe0e8" stroke="#363b55" stroke-width="1.35"/>
<circle cx="160.10" cy="686.00" r="1.95" fill="#dfe0e8" stroke="#363b55" stroke-width="1.35"/>
<circle cx="162.40" cy="688.30" r="1.95" fill="#dfe0e8" stroke="#363b55" stroke-width="1.35"/>
<circle cx="168.30" cy="686.30" r="1.95" fill="#dfe0e8" stroke="#363b55" stroke-width="1.35"/>
<circle cx="165.00" cy="689.90" r="1.95" fill="#dfe0e8" stroke="#363b55" stroke-width="1.35"/>
<circle cx="174.80" cy="684.30" r="1.95" fill="#dfe0e8" stroke="#363b55" stroke-width="1.35"/>
<circle cx="179.10" cy="689.90" r="1.95" fill="#dfe0e8" stroke="#363b55" stroke-width="1.35"/>
<circle cx="183.00" cy="685.60" r="1.95" fill="#dfe0e8" stroke="#363b55" stroke-width="1.35"/>
<circle cx="185.90" cy="688.30" r="1.95" fill="#dfe0e8" stroke="#363b55" stroke-width="1.35"/>
<circle cx="188.20" cy="685.30" r="1.95" fill="#dfe0e8" stroke="#363b55" stroke-width="1.35"/>
<circle cx="191.80" cy="690.60" r="1.95" fill="#dfe0e8" stroke="#363b55" stroke-width="1.35"/>
<circle cx="186.20" cy="693.50" r="1.95" fill="#dfe0e8" stroke="#363b55" stroke-width="1.35"/>
<circle cx="152.60" cy="693.80" r="1.95" fill="#dfe0e8" stroke="#363b55" stroke-width="1.35"/>
<circle cx="159.40" cy="698.10" r="1.95" fill="#dfe0e8" stroke="#363b55" stroke-width="1.35"/>
<circle cx="164.30" cy="697.10" r="1.95" fill="#dfe0e8" stroke="#363b55" stroke-width="1.35"/>
<circle cx="163.40" cy="693.80" r="1.95" fill="#dfe0e8" stroke="#363b55" stroke-width="1.35"/>
<circle cx="147.70" cy="697.70" r="1.95" fill="#dfe0e8" stroke="#363b55" stroke-width="1.35"/>
<circle cx="144.10" cy="701.30" r="1.95" fill="#dfe0e8" stroke="#363b55" stroke-width="1.35"/>
<circle cx="148.60" cy="700.40" r="1.95" fill="#dfe0e8" stroke="#363b55" stroke-width="1.35"/>
<circle cx="135.20" cy="703.60" r="1.95" fill="#dfe0e8" stroke="#363b55" stroke-width="1.35"/>
<circle cx="152.90" cy="701.30" r="1.95" fill="#dfe0e8" stroke="#363b55" stroke-width="1.35"/>
<circle cx="169.20" cy="700.70" r="1.95" fill="#dfe0e8" stroke="#363b55" stroke-width="1.35"/>
<circle cx="170.90" cy="701.30" r="1.95" fill="#dfe0e8" stroke="#363b55" stroke-width="1.35"/>
<circle cx="181.00" cy="699.00" r="1.95" fill="#dfe0e8" stroke="#363b55" stroke-width="1.35"/>
<circle cx="194.10" cy="702.00" r="1.95" fill="#dfe0e8" stroke="#363b55" stroke-width="1.35"/>
<circle cx="143.70" cy="706.20" r="1.95" fill="#dfe0e8" stroke="#363b55" stroke-width="1.35"/>
<circle cx="148.60" cy="706.90" r="1.95" fill="#dfe0e8" stroke="#363b55" stroke-width="1.35"/>
<circle cx="157.10" cy="705.90" r="1.95" fill="#dfe0e8" stroke="#363b55" stroke-width="1.35"/>
<circle cx="158.10" cy="707.90" r="1.95" fill="#dfe0e8" stroke="#363b55" stroke-width="1.35"/>
<circle cx="162.40" cy="704.90" r="1.95" fill="#dfe0e8" stroke="#363b55" stroke-width="1.35"/>
<circle cx="172.20" cy="708.90" r="1.95" fill="#dfe0e8" stroke="#363b55" stroke-width="1.35"/>
<circle cx="172.50" cy="709.80" r="1.95" fill="#dfe0e8" stroke="#363b55" stroke-width="1.35"/>
<circle cx="149.30" cy="712.10" r="1.95" fill="#dfe0e8" stroke="#363b55" stroke-width="1.35"/>
<circle cx="161.10" cy="713.80" r="1.95" fill="#dfe0e8" stroke="#363b55" stroke-width="1.35"/>
<circle cx="134.30" cy="715.40" r="1.95" fill="#dfe0e8" stroke="#363b55" stroke-width="1.35"/>
<circle cx="144.10" cy="716.00" r="1.95" fill="#dfe0e8" stroke="#363b55" stroke-width="1.35"/>
<circle cx="145.10" cy="718.70" r="1.95" fill="#dfe0e8" stroke="#363b55" stroke-width="1.35"/>
<circle cx="148.60" cy="717.70" r="1.95" fill="#dfe0e8" stroke="#363b55" stroke-width="1.35"/>
<circle cx="134.30" cy="723.20" r="1.95" fill="#dfe0e8" stroke="#363b55" stroke-width="1.35"/>
<circle cx="153.60" cy="727.50" r="1.95" fill="#dfe0e8" stroke="#363b55" stroke-width="1.35"/>
<line x1="344.40" y1="581.50" x2="344.40" y2="742.80" stroke="#000" stroke-width="1.5"/>
<line x1="343.70" y1="742.80" x2="509.80" y2="742.80" stroke="#000" stroke-width="1.5"/>
<line x1="340.00" y1="584.88" x2="344.40" y2="584.88" stroke="#000" stroke-width="1.5"/>
<text x="318.41" y="588.88" font-size="11.3" textLength="12.95" lengthAdjust="spacingAndGlyphs">10</text>
<text x="331.55" y="583.88" font-size="8.2" textLength="4.56" lengthAdjust="spacingAndGlyphs">7</text>
<line x1="340.00" y1="611.20" x2="344.40" y2="611.20" stroke="#000" stroke-width="1.5"/>
<text x="318.41" y="615.20" font-size="11.3" textLength="12.95" lengthAdjust="spacingAndGlyphs">10</text>
<text x="331.50" y="610.20" font-size="8.2" textLength="4.56" lengthAdjust="spacingAndGlyphs">6</text>
<line x1="340.00" y1="637.52" x2="344.40" y2="637.52" stroke="#000" stroke-width="1.5"/>
<text x="318.41" y="641.52" font-size="11.3" textLength="12.95" lengthAdjust="spacingAndGlyphs">10</text>
<text x="331.48" y="636.52" font-size="8.2" textLength="4.56" lengthAdjust="spacingAndGlyphs">5</text>
<line x1="340.00" y1="663.84" x2="344.40" y2="663.84" stroke="#000" stroke-width="1.5"/>
<text x="318.41" y="667.84" font-size="11.3" textLength="12.95" lengthAdjust="spacingAndGlyphs">10</text>
<text x="331.38" y="662.84" font-size="8.2" textLength="4.56" lengthAdjust="spacingAndGlyphs">4</text>
<line x1="340.00" y1="690.16" x2="344.40" y2="690.16" stroke="#000" stroke-width="1.5"/>
<text x="318.41" y="694.16" font-size="11.3" textLength="12.95" lengthAdjust="spacingAndGlyphs">10</text>
<text x="331.50" y="689.16" font-size="8.2" textLength="4.56" lengthAdjust="spacingAndGlyphs">3</text>
<line x1="340.00" y1="716.48" x2="344.40" y2="716.48" stroke="#000" stroke-width="1.5"/>
<text x="318.41" y="720.48" font-size="11.3" textLength="12.95" lengthAdjust="spacingAndGlyphs">10</text>
<text x="331.55" y="715.48" font-size="8.2" textLength="4.56" lengthAdjust="spacingAndGlyphs">2</text>
<line x1="340.00" y1="742.80" x2="344.40" y2="742.80" stroke="#000" stroke-width="1.5"/>
<text x="318.41" y="746.80" font-size="11.3" textLength="12.95" lengthAdjust="spacingAndGlyphs">10</text>
<text x="331.54" y="741.80" font-size="8.2" textLength="4.56" lengthAdjust="spacingAndGlyphs">1</text>
<line x1="342.20" y1="592.28" x2="344.40" y2="592.28" stroke="#000" stroke-width="1.5"/>
<line x1="342.20" y1="618.60" x2="344.40" y2="618.60" stroke="#000" stroke-width="1.5"/>
<line x1="342.20" y1="644.92" x2="344.40" y2="644.92" stroke="#000" stroke-width="1.5"/>
<line x1="342.20" y1="671.24" x2="344.40" y2="671.24" stroke="#000" stroke-width="1.5"/>
<line x1="342.20" y1="697.56" x2="344.40" y2="697.56" stroke="#000" stroke-width="1.5"/>
<line x1="342.20" y1="723.88" x2="344.40" y2="723.88" stroke="#000" stroke-width="1.5"/>
<line x1="371.50" y1="742.80" x2="371.50" y2="747.40" stroke="#000" stroke-width="1.5"/>
<text x="363.66" y="761.90" font-size="10.0" textLength="15.71" lengthAdjust="spacingAndGlyphs">0.5</text>
<line x1="394.62" y1="742.80" x2="394.62" y2="747.40" stroke="#000" stroke-width="1.5"/>
<text x="391.48" y="761.90" font-size="10.0" textLength="6.28" lengthAdjust="spacingAndGlyphs">2</text>
<line x1="417.74" y1="742.80" x2="417.74" y2="747.40" stroke="#000" stroke-width="1.5"/>
<text x="414.60" y="761.90" font-size="10.0" textLength="6.28" lengthAdjust="spacingAndGlyphs">8</text>
<line x1="440.86" y1="742.80" x2="440.86" y2="747.40" stroke="#000" stroke-width="1.5"/>
<text x="434.64" y="761.90" font-size="10.0" textLength="12.57" lengthAdjust="spacingAndGlyphs">32</text>
<line x1="463.98" y1="742.80" x2="463.98" y2="747.40" stroke="#000" stroke-width="1.5"/>
<text x="454.37" y="761.90" font-size="10.0" textLength="18.85" lengthAdjust="spacingAndGlyphs">128</text>
<line x1="487.10" y1="742.80" x2="487.10" y2="747.40" stroke="#000" stroke-width="1.5"/>
<text x="477.73" y="761.90" font-size="10.0" textLength="18.85" lengthAdjust="spacingAndGlyphs">512</text>
<line x1="362.10" y1="742.80" x2="362.10" y2="745.10" stroke="#000" stroke-width="1.5"/>
<line x1="385.22" y1="742.80" x2="385.22" y2="745.10" stroke="#000" stroke-width="1.5"/>
<line x1="408.34" y1="742.80" x2="408.34" y2="745.10" stroke="#000" stroke-width="1.5"/>
<line x1="431.46" y1="742.80" x2="431.46" y2="745.10" stroke="#000" stroke-width="1.5"/>
<line x1="454.58" y1="742.80" x2="454.58" y2="745.10" stroke="#000" stroke-width="1.5"/>
<line x1="477.70" y1="742.80" x2="477.70" y2="745.10" stroke="#000" stroke-width="1.5"/>
<line x1="500.82" y1="742.80" x2="500.82" y2="745.10" stroke="#000" stroke-width="1.5"/>
<text x="388.54" y="780.40" font-size="12.6" textLength="36.20" lengthAdjust="spacingAndGlyphs" style="stroke-width:0.5px">Histones</text>
<text x="427.74" y="780.40" font-size="12.6" textLength="21.26" lengthAdjust="spacingAndGlyphs" style="stroke-width:0.5px">(µg/</text>
<text x="451.39" y="780.40" font-size="12.6" textLength="14.77" lengthAdjust="spacingAndGlyphs" style="stroke-width:0.5px">ml)</text>
<text x="308.90" y="689.96" font-size="13" textLength="40.96" lengthAdjust="spacingAndGlyphs" transform="rotate(-90 308.90 689.96)" style="stroke-width:0.5px">Parasites/</text>
<text x="308.90" y="644.88" font-size="13" textLength="11.44" lengthAdjust="spacingAndGlyphs" transform="rotate(-90 308.90 644.88)" style="stroke-width:0.5px">µl</text>
<text x="394.06" y="587.30" font-size="9.5" textLength="90.97" lengthAdjust="spacingAndGlyphs" style="stroke:none">r = 0.20;  p= 0.004</text>
<circle cx="419.10" cy="607.40" r="1.95" fill="#dfe0e8" stroke="#363b55" stroke-width="1.35"/>
<circle cx="419.10" cy="616.40" r="1.95" fill="#dfe0e8" stroke="#363b55" stroke-width="1.35"/>
<circle cx="414.10" cy="620.40" r="1.95" fill="#dfe0e8" stroke="#363b55" stroke-width="1.35"/>
<circle cx="422.70" cy="620.40" r="1.95" fill="#dfe0e8" stroke="#363b55" stroke-width="1.35"/>
<circle cx="424.80" cy="621.60" r="1.95" fill="#dfe0e8" stroke="#363b55" stroke-width="1.35"/>
<circle cx="387.10" cy="625.60" r="1.95" fill="#dfe0e8" stroke="#363b55" stroke-width="1.35"/>
<circle cx="387.60" cy="626.30" r="1.95" fill="#dfe0e8" stroke="#363b55" stroke-width="1.35"/>
<circle cx="398.80" cy="629.40" r="1.95" fill="#dfe0e8" stroke="#363b55" stroke-width="1.35"/>
<circle cx="411.80" cy="629.40" r="1.95" fill="#dfe0e8" stroke="#363b55" stroke-width="1.35"/>
<circle cx="415.30" cy="627.70" r="1.95" fill="#dfe0e8" stroke="#363b55" stroke-width="1.35"/>
<circle cx="418.70" cy="626.80" r="1.95" fill="#dfe0e8" stroke="#363b55" stroke-width="1.35"/>
<circle cx="417.00" cy="628.60" r="1.95" fill="#dfe0e8" stroke="#363b55" stroke-width="1.35"/>
<circle cx="426.50" cy="627.30" r="1.95" fill="#dfe0e8" stroke="#363b55" stroke-width="1.35"/>
<circle cx="428.60" cy="626.30" r="1.95" fill="#dfe0e8" stroke="#363b55" stroke-width="1.35"/>
<circle cx="410.10" cy="633.40" r="1.95" fill="#dfe0e8" stroke="#363b55" stroke-width="1.35"/>
<circle cx="414.10" cy="633.70" r="1.95" fill="#dfe0e8" stroke="#363b55" stroke-width="1.35"/>
<circle cx="429.10" cy="632.40" r="1.95" fill="#dfe0e8" stroke="#363b55" stroke-width="1.35"/>
<circle cx="395.70" cy="637.20" r="1.95" fill="#dfe0e8" stroke="#363b55" stroke-width="1.35"/>
<circle cx="398.80" cy="636.30" r="1.95" fill="#dfe0e8" stroke="#363b55" stroke-width="1.35"/>
<circle cx="399.70" cy="641.50" r="1.95" fill="#dfe0e8" stroke="#363b55" stroke-width="1.35"/>
<circle cx="402.30" cy="644.70" r="1.95" fill="#dfe0e8" stroke="#363b55" stroke-width="1.35"/>
<circle cx="384.10" cy="642.90" r="1.95" fill="#dfe0e8" stroke="#363b55" stroke-width="1.35"/>
<circle cx="409.20" cy="644.10" r="1.95" fill="#dfe0e8" stroke="#363b55" stroke-width="1.35"/>
<circle cx="413.60" cy="641.50" r="1.95" fill="#dfe0e8" stroke="#363b55" stroke-width="1.35"/>
<circle cx="418.70" cy="640.20" r="1.95" fill="#dfe0e8" stroke="#363b55" stroke-width="1.35"/>
<circle cx="422.70" cy="636.70" r="1.95" fill="#dfe0e8" stroke="#363b55" stroke-width="1.35"/>
<circle cx="425.70" cy="635.80" r="1.95" fill="#dfe0e8" stroke="#363b55" stroke-width="1.35"/>
<circle cx="421.00" cy="642.40" r="1.95" fill="#dfe0e8" stroke="#363b55" stroke-width="1.35"/>
<circle cx="423.90" cy="641.50" r="1.95" fill="#dfe0e8" stroke="#363b55" stroke-width="1.35"/>
<circle cx="426.50" cy="643.30" r="1.95" fill="#dfe0e8" stroke="#363b55" stroke-width="1.35"/>
<circle cx="422.20" cy="645.90" r="1.95" fill="#dfe0e8" stroke="#363b55" stroke-width="1.35"/>
<circle cx="429.10" cy="641.50" r="1.95" fill="#dfe0e8" stroke="#363b55" stroke-width="1.35"/>
<circle cx="355.20" cy="649.30" r="1.95" fill="#dfe0e8" stroke="#363b55" stroke-width="1.35"/>
<circle cx="398.80" cy="649.30" r="1.95" fill="#dfe0e8" stroke="#363b55" stroke-width="1.35"/>
<circle cx="388.50" cy="652.30" r="1.95" fill="#dfe0e8" stroke="#363b55" stroke-width="1.35"/>
<circle cx="409.20" cy="650.50" r="1.95" fill="#dfe0e8" stroke="#363b55" stroke-width="1.35"/>
<circle cx="410.10" cy="648.10" r="1.95" fill="#dfe0e8" stroke="#363b55" stroke-width="1.35"/>
<circle cx="409.20" cy="652.80" r="1.95" fill="#dfe0e8" stroke="#363b55" stroke-width="1.35"/>
<circle cx="376.70" cy="657.50" r="1.95" fill="#dfe0e8" stroke="#363b55" stroke-width="1.35"/>
<circle cx="382.90" cy="658.50" r="1.95" fill="#dfe0e8" stroke="#363b55" stroke-width="1.35"/>
<circle cx="387.20" cy="658.30" r="1.95" fill="#dfe0e8" stroke="#363b55" stroke-width="1.35"/>
<circle cx="416.20" cy="655.00" r="1.95" fill="#dfe0e8" stroke="#363b55" stroke-width="1.35"/>
<circle cx="419.30" cy="653.70" r="1.95" fill="#dfe0e8" stroke="#363b55" stroke-width="1.35"/>
<circle cx="416.70" cy="659.70" r="1.95" fill="#dfe0e8" stroke="#363b55" stroke-width="1.35"/>
<circle cx="419.30" cy="658.80" r="1.95" fill="#dfe0e8" stroke="#363b55" stroke-width="1.35"/>
<circle cx="423.40" cy="657.10" r="1.95" fill="#dfe0e8" stroke="#363b55" stroke-width="1.35"/>
<circle cx="426.50" cy="650.70" r="1.95" fill="#dfe0e8" stroke="#363b55" stroke-width="1.35"/>
<circle cx="409.20" cy="660.90" r="1.95" fill="#dfe0e8" stroke="#363b55" stroke-width="1.35"/>
<circle cx="411.80" cy="666.30" r="1.95" fill="#dfe0e8" stroke="#363b55" stroke-width="1.35"/>
<circle cx="413.60" cy="666.60" r="1.95" fill="#dfe0e8" stroke="#363b55" stroke-width="1.35"/>
<circle cx="426.50" cy="665.80" r="1.95" fill="#dfe0e8" stroke="#363b55" stroke-width="1.35"/>
<circle cx="428.30" cy="662.70" r="1.95" fill="#dfe0e8" stroke="#363b55" stroke-width="1.35"/>
<circle cx="446.50" cy="607.80" r="1.95" fill="#dfe0e8" stroke="#363b55" stroke-width="1.35"/>
<circle cx="453.70" cy="609.90" r="1.95" fill="#dfe0e8" stroke="#363b55" stroke-width="1.35"/>
<circle cx="466.40" cy="608.30" r="1.95" fill="#dfe0e8" stroke="#363b55" stroke-width="1.35"/>
<circle cx="471.90" cy="613.50" r="1.95" fill="#dfe0e8" stroke="#363b55" stroke-width="1.35"/>
<circle cx="496.20" cy="614.70" r="1.95" fill="#dfe0e8" stroke="#363b55" stroke-width="1.35"/>
<circle cx="484.40" cy="617.30" r="1.95" fill="#dfe0e8" stroke="#363b55" stroke-width="1.35"/>
<circle cx="438.70" cy="612.10" r="1.95" fill="#dfe0e8" stroke="#363b55" stroke-width="1.35"/>
<circle cx="438.20" cy="614.20" r="1.95" fill="#dfe0e8" stroke="#363b55" stroke-width="1.35"/>
<circle cx="433.80" cy="616.40" r="1.95" fill="#dfe0e8" stroke="#363b55" stroke-width="1.35"/>
<circle cx="433.00" cy="617.30" r="1.95" fill="#dfe0e8" stroke="#363b55" stroke-width="1.35"/>
<circle cx="439.40" cy="617.80" r="1.95" fill="#dfe0e8" stroke="#363b55" stroke-width="1.35"/>
<circle cx="456.30" cy="613.00" r="1.95" fill="#dfe0e8" stroke="#363b55" stroke-width="1.35"/>
<circle cx="459.50" cy="613.50" r="1.95" fill="#dfe0e8" stroke="#363b55" stroke-width="1.35"/>
<circle cx="462.40" cy="616.80" r="1.95" fill="#dfe0e8" stroke="#363b55" stroke-width="1.35"/>
<circle cx="459.80" cy="616.80" r="1.95" fill="#dfe0e8" stroke="#363b55" stroke-width="1.35"/>
<circle cx="456.30" cy="619.00" r="1.95" fill="#dfe0e8" stroke="#363b55" stroke-width="1.35"/>
<circle cx="478.00" cy="618.70" r="1.95" fill="#dfe0e8" stroke="#363b55" stroke-width="1.35"/>
<circle cx="475.00" cy="620.80" r="1.95" fill="#dfe0e8" stroke="#363b55" stroke-width="1.35"/>
<circle cx="476.20" cy="624.20" r="1.95" fill="#dfe0e8" stroke="#363b55" stroke-width="1.35"/>
<circle cx="423.10" cy="620.40" r="1.95" fill="#dfe0e8" stroke="#363b55" stroke-width="1.35"/>
<circle cx="442.50" cy="622.50" r="1.95" fill="#dfe0e8" stroke="#363b55" stroke-width="1.35"/>
<circle cx="446.80" cy="621.60" r="1.95" fill="#dfe0e8" stroke="#363b55" stroke-width="1.35"/>
<circle cx="451.20" cy="622.50" r="1.95" fill="#dfe0e8" stroke="#363b55" stroke-width="1.35"/>
<circle cx="455.50" cy="622.50" r="1.95" fill="#dfe0e8" stroke="#363b55" stroke-width="1.35"/>
<circle cx="461.50" cy="623.70" r="1.95" fill="#dfe0e8" stroke="#363b55" stroke-width="1.35"/>
<circle cx="467.60" cy="625.10" r="1.95" fill="#dfe0e8" stroke="#363b55" stroke-width="1.35"/>
<circle cx="427.80" cy="626.00" r="1.95" fill="#dfe0e8" stroke="#363b55" stroke-width="1.35"/>
<circle cx="433.80" cy="626.80" r="1.95" fill="#dfe0e8" stroke="#363b55" stroke-width="1.35"/>
<circle cx="437.30" cy="626.30" r="1.95" fill="#dfe0e8" stroke="#363b55" stroke-width="1.35"/>
<circle cx="443.40" cy="626.30" r="1.95" fill="#dfe0e8" stroke="#363b55" stroke-width="1.35"/>
<circle cx="454.60" cy="627.70" r="1.95" fill="#dfe0e8" stroke="#363b55" stroke-width="1.35"/>
<circle cx="469.30" cy="627.70" r="1.95" fill="#dfe0e8" stroke="#363b55" stroke-width="1.35"/>
<circle cx="464.70" cy="629.40" r="1.95" fill="#dfe0e8" stroke="#363b55" stroke-width="1.35"/>
<circle cx="466.40" cy="630.60" r="1.95" fill="#dfe0e8" stroke="#363b55" stroke-width="1.35"/>
<circle cx="430.40" cy="630.30" r="1.95" fill="#dfe0e8" stroke="#363b55" stroke-width="1.35"/>
<circle cx="437.30" cy="630.30" r="1.95" fill="#dfe0e8" stroke="#363b55" stroke-width="1.35"/>
<circle cx="428.70" cy="632.50" r="1.95" fill="#dfe0e8" stroke="#363b55" stroke-width="1.35"/>
<circle cx="433.00" cy="632.90" r="1.95" fill="#dfe0e8" stroke="#363b55" stroke-width="1.35"/>
<circle cx="458.90" cy="631.20" r="1.95" fill="#dfe0e8" stroke="#363b55" stroke-width="1.35"/>
<circle cx="456.30" cy="632.00" r="1.95" fill="#dfe0e8" stroke="#363b55" stroke-width="1.35"/>
<circle cx="454.60" cy="633.70" r="1.95" fill="#dfe0e8" stroke="#363b55" stroke-width="1.35"/>
<circle cx="479.40" cy="629.90" r="1.95" fill="#dfe0e8" stroke="#363b55" stroke-width="1.35"/>
<circle cx="423.50" cy="636.30" r="1.95" fill="#dfe0e8" stroke="#363b55" stroke-width="1.35"/>
<circle cx="426.10" cy="637.20" r="1.95" fill="#dfe0e8" stroke="#363b55" stroke-width="1.35"/>
<circle cx="433.80" cy="637.20" r="1.95" fill="#dfe0e8" stroke="#363b55" stroke-width="1.35"/>
<circle cx="444.20" cy="638.10" r="1.95" fill="#dfe0e8" stroke="#363b55" stroke-width="1.35"/>
<circle cx="446.80" cy="637.20" r="1.95" fill="#dfe0e8" stroke="#363b55" stroke-width="1.35"/>
<circle cx="452.00" cy="638.90" r="1.95" fill="#dfe0e8" stroke="#363b55" stroke-width="1.35"/>
<circle cx="445.10" cy="640.70" r="1.95" fill="#dfe0e8" stroke="#363b55" stroke-width="1.35"/>
<circle cx="448.60" cy="641.50" r="1.95" fill="#dfe0e8" stroke="#363b55" stroke-width="1.35"/>
<circle cx="450.30" cy="640.20" r="1.95" fill="#dfe0e8" stroke="#363b55" stroke-width="1.35"/>
<circle cx="453.70" cy="642.40" r="1.95" fill="#dfe0e8" stroke="#363b55" stroke-width="1.35"/>
<circle cx="475.00" cy="637.20" r="1.95" fill="#dfe0e8" stroke="#363b55" stroke-width="1.35"/>
<circle cx="475.70" cy="639.50" r="1.95" fill="#dfe0e8" stroke="#363b55" stroke-width="1.35"/>
<circle cx="423.50" cy="641.50" r="1.95" fill="#dfe0e8" stroke="#363b55" stroke-width="1.35"/>
<circle cx="426.90" cy="641.50" r="1.95" fill="#dfe0e8" stroke="#363b55" stroke-width="1.35"/>
<circle cx="423.50" cy="645.30" r="1.95" fill="#dfe0e8" stroke="#363b55" stroke-width="1.35"/>
<circle cx="434.70" cy="643.30" r="1.95" fill="#dfe0e8" stroke="#363b55" stroke-width="1.35"/>
<circle cx="437.30" cy="645.90" r="1.95" fill="#dfe0e8" stroke="#363b55" stroke-width="1.35"/>
<circle cx="439.00" cy="647.60" r="1.95" fill="#dfe0e8" stroke="#363b55" stroke-width="1.35"/>
<circle cx="447.70" cy="645.90" r="1.95" fill="#dfe0e8" stroke="#363b55" stroke-width="1.35"/>
<circle cx="452.00" cy="650.20" r="1.95" fill="#dfe0e8" stroke="#363b55" stroke-width="1.35"/>
<circle cx="452.90" cy="649.00" r="1.95" fill="#dfe0e8" stroke="#363b55" stroke-width="1.35"/>
<circle cx="437.30" cy="650.20" r="1.95" fill="#dfe0e8" stroke="#363b55" stroke-width="1.35"/>
<circle cx="479.40" cy="646.40" r="1.95" fill="#dfe0e8" stroke="#363b55" stroke-width="1.35"/>
<circle cx="496.20" cy="645.90" r="1.95" fill="#dfe0e8" stroke="#363b55" stroke-width="1.35"/>
<circle cx="461.00" cy="649.30" r="1.95" fill="#dfe0e8" stroke="#363b55" stroke-width="1.35"/>
<circle cx="483.70" cy="649.80" r="1.95" fill="#dfe0e8" stroke="#363b55" stroke-width="1.35"/>
<circle cx="426.90" cy="650.50" r="1.95" fill="#dfe0e8" stroke="#363b55" stroke-width="1.35"/>
<circle cx="431.20" cy="651.90" r="1.95" fill="#dfe0e8" stroke="#363b55" stroke-width="1.35"/>
<circle cx="433.80" cy="653.70" r="1.95" fill="#dfe0e8" stroke="#363b55" stroke-width="1.35"/>
<circle cx="439.00" cy="652.80" r="1.95" fill="#dfe0e8" stroke="#363b55" stroke-width="1.35"/>
<circle cx="432.10" cy="655.00" r="1.95" fill="#dfe0e8" stroke="#363b55" stroke-width="1.35"/>
<circle cx="439.00" cy="656.20" r="1.95" fill="#dfe0e8" stroke="#363b55" stroke-width="1.35"/>
<circle cx="423.50" cy="656.80" r="1.95" fill="#dfe0e8" stroke="#363b55" stroke-width="1.35"/>
<circle cx="449.40" cy="655.90" r="1.95" fill="#dfe0e8" stroke="#363b55" stroke-width="1.35"/>
<circle cx="454.30" cy="657.50" r="1.95" fill="#dfe0e8" stroke="#363b55" stroke-width="1.35"/>
<circle cx="492.30" cy="655.00" r="1.95" fill="#dfe0e8" stroke="#363b55" stroke-width="1.35"/>
<circle cx="427.80" cy="662.30" r="1.95" fill="#dfe0e8" stroke="#363b55" stroke-width="1.35"/>
<circle cx="426.90" cy="665.80" r="1.95" fill="#dfe0e8" stroke="#363b55" stroke-width="1.35"/>
<circle cx="438.70" cy="664.00" r="1.95" fill="#dfe0e8" stroke="#363b55" stroke-width="1.35"/>
<circle cx="447.30" cy="666.60" r="1.95" fill="#dfe0e8" stroke="#363b55" stroke-width="1.35"/>
<circle cx="484.90" cy="662.00" r="1.95" fill="#dfe0e8" stroke="#363b55" stroke-width="1.35"/>
<circle cx="416.00" cy="684.30" r="1.95" fill="#dfe0e8" stroke="#363b55" stroke-width="1.35"/>
<circle cx="423.30" cy="684.00" r="1.95" fill="#dfe0e8" stroke="#363b55" stroke-width="1.35"/>
<circle cx="415.20" cy="690.20" r="1.95" fill="#dfe0e8" stroke="#363b55" stroke-width="1.35"/>
<circle cx="418.70" cy="689.40" r="1.95" fill="#dfe0e8" stroke="#363b55" stroke-width="1.35"/>
<circle cx="424.60" cy="689.40" r="1.95" fill="#dfe0e8" stroke="#363b55" stroke-width="1.35"/>
<circle cx="428.70" cy="690.70" r="1.95" fill="#dfe0e8" stroke="#363b55" stroke-width="1.35"/>
<circle cx="411.20" cy="695.00" r="1.95" fill="#dfe0e8" stroke="#363b55" stroke-width="1.35"/>
<circle cx="417.90" cy="697.70" r="1.95" fill="#dfe0e8" stroke="#363b55" stroke-width="1.35"/>
<circle cx="412.00" cy="701.00" r="1.95" fill="#dfe0e8" stroke="#363b55" stroke-width="1.35"/>
<circle cx="441.60" cy="692.90" r="1.95" fill="#dfe0e8" stroke="#363b55" stroke-width="1.35"/>
<circle cx="451.50" cy="687.00" r="1.95" fill="#dfe0e8" stroke="#363b55" stroke-width="1.35"/>
<circle cx="454.80" cy="689.70" r="1.95" fill="#dfe0e8" stroke="#363b55" stroke-width="1.35"/>
<circle cx="447.50" cy="698.30" r="1.95" fill="#dfe0e8" stroke="#363b55" stroke-width="1.35"/>
<circle cx="461.80" cy="696.10" r="1.95" fill="#dfe0e8" stroke="#363b55" stroke-width="1.35"/>
<circle cx="429.50" cy="699.60" r="1.95" fill="#dfe0e8" stroke="#363b55" stroke-width="1.35"/>
<circle cx="424.60" cy="703.70" r="1.95" fill="#dfe0e8" stroke="#363b55" stroke-width="1.35"/>
<circle cx="427.30" cy="703.10" r="1.95" fill="#dfe0e8" stroke="#363b55" stroke-width="1.35"/>
<circle cx="426.00" cy="707.20" r="1.95" fill="#dfe0e8" stroke="#363b55" stroke-width="1.35"/>
<circle cx="436.20" cy="701.80" r="1.95" fill="#dfe0e8" stroke="#363b55" stroke-width="1.35"/>
<circle cx="381.00" cy="704.50" r="1.95" fill="#dfe0e8" stroke="#363b55" stroke-width="1.35"/>
<circle cx="418.70" cy="709.80" r="1.95" fill="#dfe0e8" stroke="#363b55" stroke-width="1.35"/>
<circle cx="430.50" cy="711.70" r="1.95" fill="#dfe0e8" stroke="#363b55" stroke-width="1.35"/>
<circle cx="412.50" cy="714.40" r="1.95" fill="#dfe0e8" stroke="#363b55" stroke-width="1.35"/>
<circle cx="440.00" cy="713.60" r="1.95" fill="#dfe0e8" stroke="#363b55" stroke-width="1.35"/>
<circle cx="437.50" cy="717.70" r="1.95" fill="#dfe0e8" stroke="#363b55" stroke-width="1.35"/>
<circle cx="442.90" cy="721.20" r="1.95" fill="#dfe0e8" stroke="#363b55" stroke-width="1.35"/>
<circle cx="456.10" cy="715.80" r="1.95" fill="#dfe0e8" stroke="#363b55" stroke-width="1.35"/>
<circle cx="408.50" cy="720.60" r="1.95" fill="#dfe0e8" stroke="#363b55" stroke-width="1.35"/>
<circle cx="477.70" cy="698.30" r="1.95" fill="#dfe0e8" stroke="#363b55" stroke-width="1.35"/>
<circle cx="484.40" cy="701.00" r="1.95" fill="#dfe0e8" stroke="#363b55" stroke-width="1.35"/>
<circle cx="475.00" cy="705.00" r="1.95" fill="#dfe0e8" stroke="#363b55" stroke-width="1.35"/>
</svg>
</body></html>
